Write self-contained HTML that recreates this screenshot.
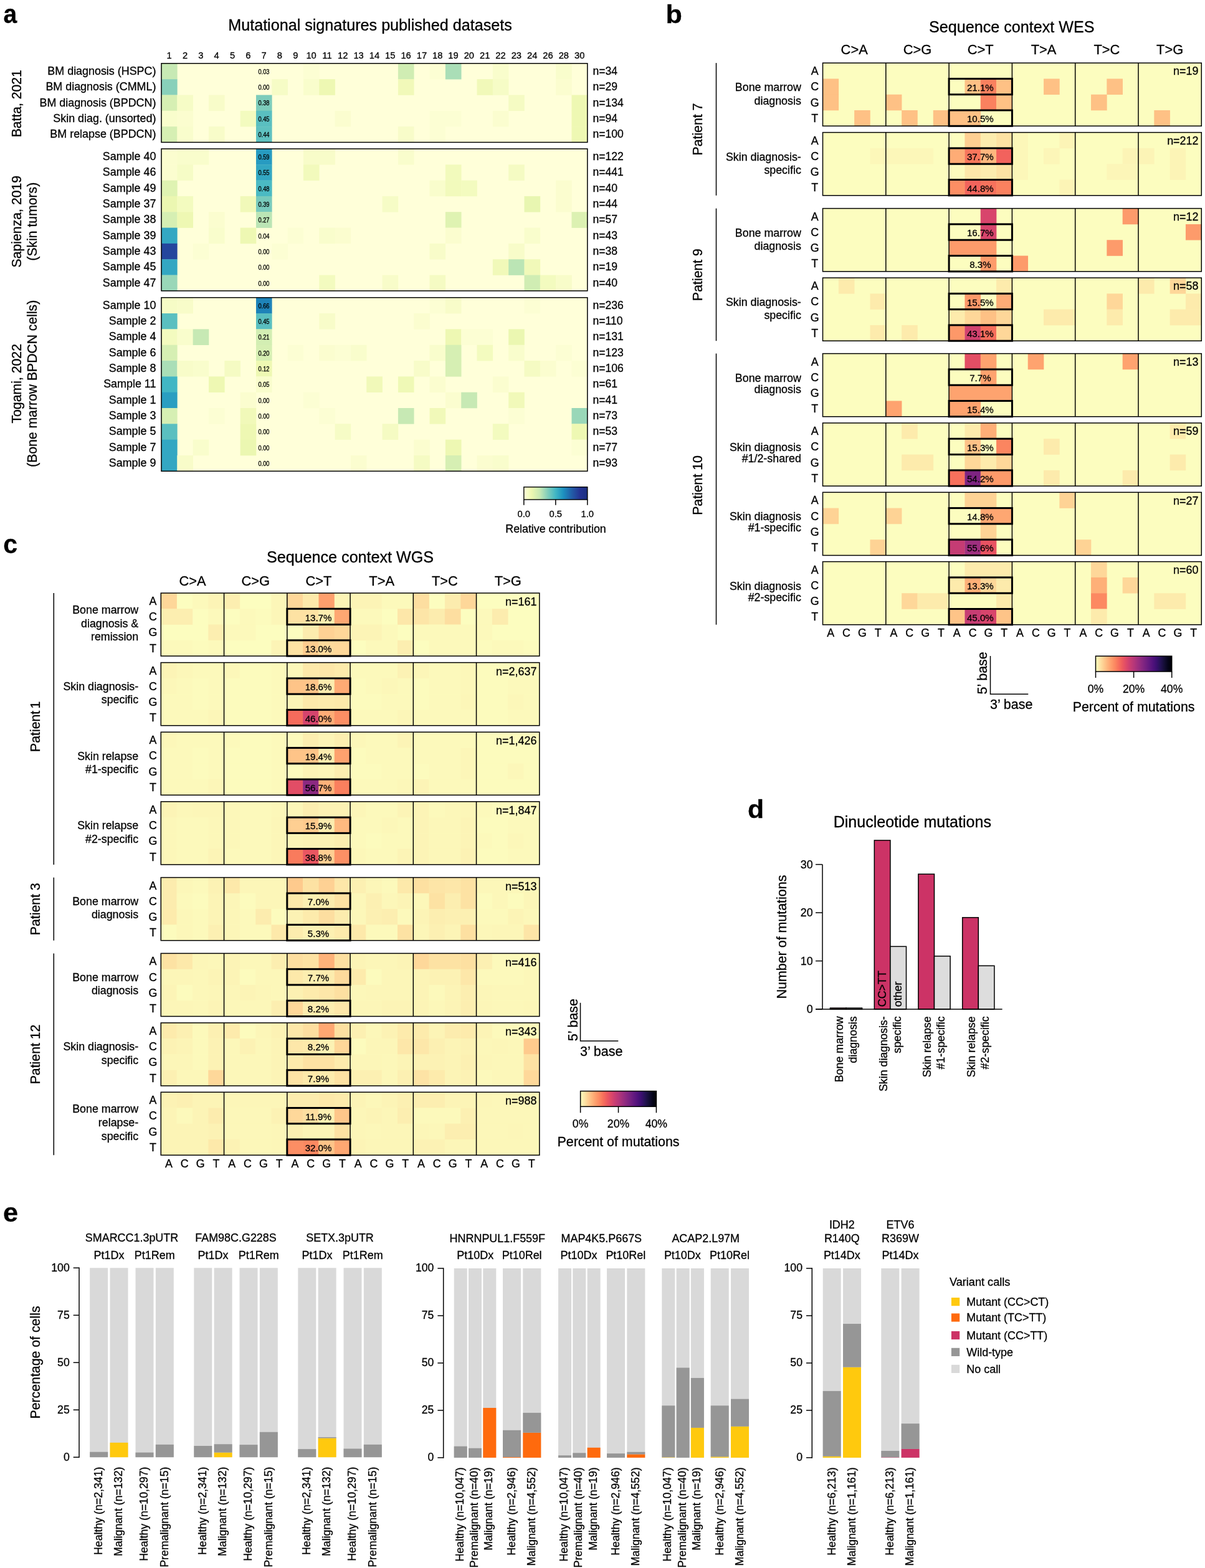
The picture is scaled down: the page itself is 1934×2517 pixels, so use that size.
<!DOCTYPE html>
<html lang="en"><head><meta charset="utf-8"><title>Mutational signatures figure</title>
<style>html,body{margin:0;padding:0;background:#fff}body{width:1934px;height:2517px;overflow:hidden}svg{display:block}text{font-family:"Liberation Sans",Arial,Helvetica,sans-serif;fill:#000;stroke:#000;stroke-width:0.3px;stroke-linejoin:round}</style>
</head><body>
<svg width="1934" height="2517" viewBox="0 0 1934 2517" role="img" aria-label="Mutational signatures figure, panels a to e">
<rect x="0" y="0" width="1934" height="2517" fill="#fff"/>
<g id="panel-a">
<text transform="translate(5.6 37.1) scale(0.93 1)" font-size="42" font-weight="bold">a</text>
<text transform="translate(594 48.6) scale(0.98 1)" font-size="25.66" text-anchor="middle">Mutational signatures published datasets</text>
<text transform="translate(271.66 94) scale(0.98 1)" font-size="15" text-anchor="middle">1</text>
<text transform="translate(296.99 94) scale(0.98 1)" font-size="15" text-anchor="middle">2</text>
<text transform="translate(322.31 94) scale(0.98 1)" font-size="15" text-anchor="middle">3</text>
<text transform="translate(347.64 94) scale(0.98 1)" font-size="15" text-anchor="middle">4</text>
<text transform="translate(372.97 94) scale(0.98 1)" font-size="15" text-anchor="middle">5</text>
<text transform="translate(398.29 94) scale(0.98 1)" font-size="15" text-anchor="middle">6</text>
<text transform="translate(423.62 94) scale(0.98 1)" font-size="15" text-anchor="middle">7</text>
<text transform="translate(448.94 94) scale(0.98 1)" font-size="15" text-anchor="middle">8</text>
<text transform="translate(474.27 94) scale(0.98 1)" font-size="15" text-anchor="middle">9</text>
<text transform="translate(499.6 94) scale(0.98 1)" font-size="15" text-anchor="middle">10</text>
<text transform="translate(524.92 94) scale(0.98 1)" font-size="15" text-anchor="middle">11</text>
<text transform="translate(550.25 94) scale(0.98 1)" font-size="15" text-anchor="middle">12</text>
<text transform="translate(575.57 94) scale(0.98 1)" font-size="15" text-anchor="middle">13</text>
<text transform="translate(600.9 94) scale(0.98 1)" font-size="15" text-anchor="middle">14</text>
<text transform="translate(626.23 94) scale(0.98 1)" font-size="15" text-anchor="middle">15</text>
<text transform="translate(651.55 94) scale(0.98 1)" font-size="15" text-anchor="middle">16</text>
<text transform="translate(676.88 94) scale(0.98 1)" font-size="15" text-anchor="middle">17</text>
<text transform="translate(702.2 94) scale(0.98 1)" font-size="15" text-anchor="middle">18</text>
<text transform="translate(727.53 94) scale(0.98 1)" font-size="15" text-anchor="middle">19</text>
<text transform="translate(752.86 94) scale(0.98 1)" font-size="15" text-anchor="middle">20</text>
<text transform="translate(778.18 94) scale(0.98 1)" font-size="15" text-anchor="middle">21</text>
<text transform="translate(803.51 94) scale(0.98 1)" font-size="15" text-anchor="middle">22</text>
<text transform="translate(828.83 94) scale(0.98 1)" font-size="15" text-anchor="middle">23</text>
<text transform="translate(854.16 94) scale(0.98 1)" font-size="15" text-anchor="middle">24</text>
<text transform="translate(879.49 94) scale(0.98 1)" font-size="15" text-anchor="middle">26</text>
<text transform="translate(904.81 94) scale(0.98 1)" font-size="15" text-anchor="middle">28</text>
<text transform="translate(930.14 94) scale(0.98 1)" font-size="15" text-anchor="middle">30</text>
<rect x="259" y="101.8" width="683.8" height="126.65" fill="#ffffd9"/>
<rect x="259" y="101.8" width="25.63" height="25.63" fill="#c7e9b4"/>
<rect x="486.93" y="101.8" width="25.63" height="25.63" fill="#fcfed3"/>
<rect x="638.89" y="101.8" width="25.63" height="25.63" fill="#d0edb3"/>
<rect x="689.54" y="101.8" width="25.63" height="25.63" fill="#fcfed3"/>
<rect x="714.87" y="101.8" width="25.63" height="25.63" fill="#aadeb7"/>
<rect x="790.84" y="101.8" width="25.63" height="25.63" fill="#f9fdcc"/>
<rect x="892.15" y="101.8" width="25.63" height="25.63" fill="#f9fdcc"/>
<rect x="259" y="127.13" width="25.63" height="25.63" fill="#88d0ba"/>
<rect x="436.28" y="127.13" width="25.63" height="25.63" fill="#f6fcc6"/>
<rect x="486.93" y="127.13" width="25.63" height="25.63" fill="#f9fdcc"/>
<rect x="512.26" y="127.13" width="25.63" height="25.63" fill="#eef8b3"/>
<rect x="638.89" y="127.13" width="25.63" height="25.63" fill="#f1f9b9"/>
<rect x="765.52" y="127.13" width="25.63" height="25.63" fill="#f1f9b9"/>
<rect x="790.84" y="127.13" width="25.63" height="25.63" fill="#f6fcc6"/>
<rect x="892.15" y="127.13" width="25.63" height="25.63" fill="#fbfdcf"/>
<rect x="259" y="152.46" width="25.63" height="25.63" fill="#d6efb3"/>
<rect x="284.33" y="152.46" width="25.63" height="25.63" fill="#f6fcc6"/>
<rect x="334.98" y="152.46" width="25.63" height="25.63" fill="#f8fcc9"/>
<rect x="410.96" y="152.46" width="25.63" height="25.63" fill="#7dccbb"/>
<rect x="816.17" y="152.46" width="25.63" height="25.63" fill="#f5fbc3"/>
<rect x="917.47" y="152.46" width="25.63" height="25.63" fill="#eef8b3"/>
<rect x="259" y="177.79" width="25.63" height="25.63" fill="#f9fdcc"/>
<rect x="284.33" y="177.79" width="25.63" height="25.63" fill="#fbfdcf"/>
<rect x="385.63" y="177.79" width="25.63" height="25.63" fill="#f3fbbf"/>
<rect x="410.96" y="177.79" width="25.63" height="25.63" fill="#5abfc0"/>
<rect x="537.59" y="177.79" width="25.63" height="25.63" fill="#fbfdcf"/>
<rect x="689.54" y="177.79" width="50.95" height="25.63" fill="#fcfed3"/>
<rect x="790.84" y="177.79" width="25.63" height="25.63" fill="#fbfdcf"/>
<rect x="917.47" y="177.79" width="25.63" height="25.63" fill="#eef8b3"/>
<rect x="259" y="203.12" width="25.63" height="25.63" fill="#d6efb3"/>
<rect x="284.33" y="203.12" width="25.63" height="25.63" fill="#f9fdcc"/>
<rect x="334.98" y="203.12" width="25.63" height="25.63" fill="#f8fcc9"/>
<rect x="410.96" y="203.12" width="25.63" height="25.63" fill="#5fc1c0"/>
<rect x="638.89" y="203.12" width="25.63" height="25.63" fill="#f8fcc9"/>
<rect x="689.54" y="203.12" width="25.63" height="25.63" fill="#fcfed3"/>
<rect x="917.47" y="203.12" width="25.63" height="25.63" fill="#eef8b3"/>
<rect x="259" y="101.8" width="683.8" height="126.65" fill="none" stroke="#000" stroke-width="1.5"/>
<text transform="translate(250.4 119.87) scale(0.98 1)" font-size="18.27" text-anchor="end">BM diagnosis (HSPC)</text>
<text transform="translate(951.5 119.87) scale(0.98 1)" font-size="17.9">n=34</text>
<text transform="translate(423.42 118.77) scale(0.87 1)" font-size="10.6" text-anchor="middle" fill="#222" stroke="#222" stroke-width="0.1">0.03</text>
<text transform="translate(250.4 145.19) scale(0.98 1)" font-size="18.27" text-anchor="end">BM diagnosis (CMML)</text>
<text transform="translate(951.5 145.19) scale(0.98 1)" font-size="17.9">n=29</text>
<text transform="translate(423.42 144.09) scale(0.87 1)" font-size="10.6" text-anchor="middle" fill="#222" stroke="#222" stroke-width="0.1">0.00</text>
<text transform="translate(250.4 170.53) scale(0.98 1)" font-size="18.27" text-anchor="end">BM diagnosis (BPDCN)</text>
<text transform="translate(951.5 170.53) scale(0.98 1)" font-size="17.9">n=134</text>
<text transform="translate(423.42 169.43) scale(0.87 1)" font-size="10.6" text-anchor="middle" fill="#222" stroke="#222" stroke-width="0.1">0.38</text>
<text transform="translate(250.4 195.85) scale(0.98 1)" font-size="18.27" text-anchor="end">Skin diag. (unsorted)</text>
<text transform="translate(951.5 195.85) scale(0.98 1)" font-size="17.9">n=94</text>
<text transform="translate(423.42 194.75) scale(0.87 1)" font-size="10.6" text-anchor="middle" fill="#222" stroke="#222" stroke-width="0.1">0.45</text>
<text transform="translate(250.4 221.18) scale(0.98 1)" font-size="18.27" text-anchor="end">BM relapse (BPDCN)</text>
<text transform="translate(951.5 221.18) scale(0.98 1)" font-size="17.9">n=100</text>
<text transform="translate(423.42 220.08) scale(0.87 1)" font-size="10.6" text-anchor="middle" fill="#222" stroke="#222" stroke-width="0.1">0.44</text>
<text transform="translate(33.8 166.22) rotate(-90) scale(0.98 1)" font-size="21.6" text-anchor="middle">Batta, 2021</text>
<rect x="259" y="238.9" width="683.8" height="227.97" fill="#ffffd9"/>
<rect x="259" y="238.9" width="25.63" height="25.63" fill="#fbfdcf"/>
<rect x="284.33" y="238.9" width="50.95" height="25.63" fill="#f9fdcc"/>
<rect x="410.96" y="238.9" width="25.63" height="25.63" fill="#279bc1"/>
<rect x="486.93" y="238.9" width="50.95" height="25.63" fill="#f8fcc9"/>
<rect x="638.89" y="238.9" width="25.63" height="25.63" fill="#f9fdcc"/>
<rect x="259" y="264.23" width="25.63" height="25.63" fill="#fbfdcf"/>
<rect x="284.33" y="264.23" width="25.63" height="25.63" fill="#f6fcc6"/>
<rect x="410.96" y="264.23" width="25.63" height="25.63" fill="#33a7c2"/>
<rect x="486.93" y="264.23" width="25.63" height="25.63" fill="#f2fabc"/>
<rect x="714.87" y="264.23" width="25.63" height="25.63" fill="#f2fabc"/>
<rect x="816.17" y="264.23" width="25.63" height="25.63" fill="#f5fbc3"/>
<rect x="259" y="289.56" width="25.63" height="25.63" fill="#dff3b2"/>
<rect x="410.96" y="289.56" width="25.63" height="25.63" fill="#4bbac3"/>
<rect x="689.54" y="289.56" width="25.63" height="25.63" fill="#f9fdcc"/>
<rect x="714.87" y="289.56" width="25.63" height="25.63" fill="#f2fabc"/>
<rect x="740.19" y="289.56" width="25.63" height="25.63" fill="#f3fbbf"/>
<rect x="892.15" y="289.56" width="25.63" height="25.63" fill="#fbfdcf"/>
<rect x="259" y="314.89" width="25.63" height="25.63" fill="#ebf7b1"/>
<rect x="284.33" y="314.89" width="25.63" height="25.63" fill="#f3fbbf"/>
<rect x="385.63" y="314.89" width="25.63" height="25.63" fill="#f1f9b9"/>
<rect x="410.96" y="314.89" width="25.63" height="25.63" fill="#78cabc"/>
<rect x="613.56" y="314.89" width="25.63" height="25.63" fill="#f6fcc6"/>
<rect x="841.5" y="314.89" width="25.63" height="25.63" fill="#e8f6b1"/>
<rect x="892.15" y="314.89" width="25.63" height="25.63" fill="#fbfdcf"/>
<rect x="259" y="340.22" width="25.63" height="25.63" fill="#d6efb3"/>
<rect x="284.33" y="340.22" width="25.63" height="25.63" fill="#eef8b3"/>
<rect x="334.98" y="340.22" width="25.63" height="25.63" fill="#fbfdcf"/>
<rect x="410.96" y="340.22" width="25.63" height="25.63" fill="#bbe5b5"/>
<rect x="714.87" y="340.22" width="25.63" height="25.63" fill="#dff3b2"/>
<rect x="917.47" y="340.22" width="25.63" height="25.63" fill="#dcf1b2"/>
<rect x="259" y="365.55" width="25.63" height="25.63" fill="#33a7c2"/>
<rect x="334.98" y="365.55" width="25.63" height="25.63" fill="#f9fdcc"/>
<rect x="385.63" y="365.55" width="25.63" height="25.63" fill="#eef8b3"/>
<rect x="461.61" y="365.55" width="25.63" height="25.63" fill="#fcfed3"/>
<rect x="512.26" y="365.55" width="25.63" height="25.63" fill="#f9fdcc"/>
<rect x="537.59" y="365.55" width="25.63" height="25.63" fill="#fbfdcf"/>
<rect x="714.87" y="365.55" width="25.63" height="25.63" fill="#fbfdcf"/>
<rect x="841.5" y="365.55" width="25.63" height="25.63" fill="#f9fdcc"/>
<rect x="259" y="390.88" width="25.63" height="25.63" fill="#24469d"/>
<rect x="309.65" y="390.88" width="25.63" height="25.63" fill="#fcfed3"/>
<rect x="436.28" y="390.88" width="25.63" height="25.63" fill="#fcfed3"/>
<rect x="689.54" y="390.88" width="25.63" height="25.63" fill="#f8fcc9"/>
<rect x="816.17" y="390.88" width="25.63" height="25.63" fill="#f8fcc9"/>
<rect x="259" y="416.21" width="25.63" height="25.63" fill="#33a7c2"/>
<rect x="790.84" y="416.21" width="25.63" height="25.63" fill="#f1f9b9"/>
<rect x="816.17" y="416.21" width="25.63" height="25.63" fill="#bbe5b5"/>
<rect x="841.5" y="416.21" width="25.63" height="25.63" fill="#f1f9b9"/>
<rect x="259" y="441.54" width="25.63" height="25.63" fill="#99d7b8"/>
<rect x="512.26" y="441.54" width="25.63" height="25.63" fill="#f3fbbf"/>
<rect x="613.56" y="441.54" width="25.63" height="25.63" fill="#f8fcc9"/>
<rect x="689.54" y="441.54" width="25.63" height="25.63" fill="#f5fbc3"/>
<rect x="841.5" y="441.54" width="25.63" height="25.63" fill="#d0edb3"/>
<rect x="866.82" y="441.54" width="25.63" height="25.63" fill="#f3fbbf"/>
<rect x="892.15" y="441.54" width="25.63" height="25.63" fill="#f8fcc9"/>
<rect x="259" y="238.9" width="683.8" height="227.97" fill="none" stroke="#000" stroke-width="1.5"/>
<text transform="translate(250.4 256.96) scale(0.98 1)" font-size="18.27" text-anchor="end">Sample 40</text>
<text transform="translate(951.5 256.96) scale(0.98 1)" font-size="17.9">n=122</text>
<text transform="translate(423.42 255.87) scale(0.87 1)" font-size="10.6" text-anchor="middle" fill="#222" stroke="#222" stroke-width="0.1">0.59</text>
<text transform="translate(250.4 282.29) scale(0.98 1)" font-size="18.27" text-anchor="end">Sample 46</text>
<text transform="translate(951.5 282.29) scale(0.98 1)" font-size="17.9">n=441</text>
<text transform="translate(423.42 281.19) scale(0.87 1)" font-size="10.6" text-anchor="middle" fill="#222" stroke="#222" stroke-width="0.1">0.55</text>
<text transform="translate(250.4 307.62) scale(0.98 1)" font-size="18.27" text-anchor="end">Sample 49</text>
<text transform="translate(951.5 307.62) scale(0.98 1)" font-size="17.9">n=40</text>
<text transform="translate(423.42 306.53) scale(0.87 1)" font-size="10.6" text-anchor="middle" fill="#222" stroke="#222" stroke-width="0.1">0.48</text>
<text transform="translate(250.4 332.95) scale(0.98 1)" font-size="18.27" text-anchor="end">Sample 37</text>
<text transform="translate(951.5 332.95) scale(0.98 1)" font-size="17.9">n=44</text>
<text transform="translate(423.42 331.86) scale(0.87 1)" font-size="10.6" text-anchor="middle" fill="#222" stroke="#222" stroke-width="0.1">0.39</text>
<text transform="translate(250.4 358.28) scale(0.98 1)" font-size="18.27" text-anchor="end">Sample 38</text>
<text transform="translate(951.5 358.28) scale(0.98 1)" font-size="17.9">n=57</text>
<text transform="translate(423.42 357.19) scale(0.87 1)" font-size="10.6" text-anchor="middle" fill="#222" stroke="#222" stroke-width="0.1">0.27</text>
<text transform="translate(250.4 383.62) scale(0.98 1)" font-size="18.27" text-anchor="end">Sample 39</text>
<text transform="translate(951.5 383.62) scale(0.98 1)" font-size="17.9">n=43</text>
<text transform="translate(423.42 382.52) scale(0.87 1)" font-size="10.6" text-anchor="middle" fill="#222" stroke="#222" stroke-width="0.1">0.04</text>
<text transform="translate(250.4 408.94) scale(0.98 1)" font-size="18.27" text-anchor="end">Sample 43</text>
<text transform="translate(951.5 408.94) scale(0.98 1)" font-size="17.9">n=38</text>
<text transform="translate(423.42 407.84) scale(0.87 1)" font-size="10.6" text-anchor="middle" fill="#222" stroke="#222" stroke-width="0.1">0.00</text>
<text transform="translate(250.4 434.27) scale(0.98 1)" font-size="18.27" text-anchor="end">Sample 45</text>
<text transform="translate(951.5 434.27) scale(0.98 1)" font-size="17.9">n=19</text>
<text transform="translate(423.42 433.18) scale(0.87 1)" font-size="10.6" text-anchor="middle" fill="#222" stroke="#222" stroke-width="0.1">0.00</text>
<text transform="translate(250.4 459.6) scale(0.98 1)" font-size="18.27" text-anchor="end">Sample 47</text>
<text transform="translate(951.5 459.6) scale(0.98 1)" font-size="17.9">n=40</text>
<text transform="translate(423.42 458.5) scale(0.87 1)" font-size="10.6" text-anchor="middle" fill="#222" stroke="#222" stroke-width="0.1">0.00</text>
<text transform="translate(33.8 355.69) rotate(-90) scale(0.98 1)" font-size="21.7" text-anchor="middle">Sapienza, 2019</text>
<text transform="translate(59.2 355.69) rotate(-90) scale(0.98 1)" font-size="21.6" text-anchor="middle">(Skin tumors)</text>
<rect x="259" y="477.7" width="683.8" height="278.63" fill="#ffffd9"/>
<rect x="259" y="477.7" width="25.63" height="25.63" fill="#f6fcc6"/>
<rect x="284.33" y="477.7" width="25.63" height="25.63" fill="#f8fcc9"/>
<rect x="410.96" y="477.7" width="25.63" height="25.63" fill="#1e83b9"/>
<rect x="689.54" y="477.7" width="25.63" height="25.63" fill="#fcfed3"/>
<rect x="714.87" y="477.7" width="25.63" height="25.63" fill="#f8fcc9"/>
<rect x="841.5" y="477.7" width="25.63" height="25.63" fill="#fcfed3"/>
<rect x="259" y="503.03" width="25.63" height="25.63" fill="#5abfc0"/>
<rect x="410.96" y="503.03" width="25.63" height="25.63" fill="#5abfc0"/>
<rect x="512.26" y="503.03" width="25.63" height="25.63" fill="#f8fcc9"/>
<rect x="664.21" y="503.03" width="25.63" height="25.63" fill="#fbfdcf"/>
<rect x="259" y="528.36" width="25.63" height="25.63" fill="#f3fbbf"/>
<rect x="284.33" y="528.36" width="25.63" height="25.63" fill="#f9fdcc"/>
<rect x="309.65" y="528.36" width="25.63" height="25.63" fill="#c7e9b4"/>
<rect x="410.96" y="528.36" width="25.63" height="25.63" fill="#d3eeb3"/>
<rect x="714.87" y="528.36" width="25.63" height="25.63" fill="#eef8b3"/>
<rect x="740.19" y="528.36" width="50.95" height="25.63" fill="#fcfed3"/>
<rect x="816.17" y="528.36" width="25.63" height="25.63" fill="#ebf7b1"/>
<rect x="259" y="553.69" width="25.63" height="25.63" fill="#d6efb3"/>
<rect x="410.96" y="553.69" width="25.63" height="25.63" fill="#d6efb3"/>
<rect x="461.61" y="553.69" width="25.63" height="25.63" fill="#fcfed3"/>
<rect x="512.26" y="553.69" width="25.63" height="25.63" fill="#fbfdcf"/>
<rect x="537.59" y="553.69" width="25.63" height="25.63" fill="#fcfed3"/>
<rect x="562.91" y="553.69" width="25.63" height="25.63" fill="#f9fdcc"/>
<rect x="689.54" y="553.69" width="25.63" height="25.63" fill="#f9fdcc"/>
<rect x="714.87" y="553.69" width="25.63" height="25.63" fill="#d6efb3"/>
<rect x="765.52" y="553.69" width="25.63" height="25.63" fill="#f3fbbf"/>
<rect x="816.17" y="553.69" width="25.63" height="25.63" fill="#f9fdcc"/>
<rect x="892.15" y="553.69" width="25.63" height="25.63" fill="#fcfed3"/>
<rect x="259" y="579.02" width="25.63" height="25.63" fill="#aadeb7"/>
<rect x="284.33" y="579.02" width="25.63" height="25.63" fill="#f8fcc9"/>
<rect x="309.65" y="579.02" width="25.63" height="25.63" fill="#f9fdcc"/>
<rect x="360.3" y="579.02" width="25.63" height="25.63" fill="#f5fbc3"/>
<rect x="410.96" y="579.02" width="25.63" height="25.63" fill="#eef8b3"/>
<rect x="664.21" y="579.02" width="25.63" height="25.63" fill="#f8fcc9"/>
<rect x="714.87" y="579.02" width="25.63" height="25.63" fill="#d6efb3"/>
<rect x="841.5" y="579.02" width="25.63" height="25.63" fill="#f5fbc3"/>
<rect x="866.82" y="579.02" width="25.63" height="25.63" fill="#fbfdcf"/>
<rect x="917.47" y="579.02" width="25.63" height="25.63" fill="#fcfed3"/>
<rect x="259" y="604.35" width="25.63" height="25.63" fill="#41b6c4"/>
<rect x="334.98" y="604.35" width="25.63" height="25.63" fill="#eef8b3"/>
<rect x="410.96" y="604.35" width="25.63" height="25.63" fill="#f9fdcc"/>
<rect x="588.24" y="604.35" width="25.63" height="25.63" fill="#f1f9b9"/>
<rect x="638.89" y="604.35" width="25.63" height="25.63" fill="#eff9b6"/>
<rect x="689.54" y="604.35" width="25.63" height="25.63" fill="#fbfdcf"/>
<rect x="790.84" y="604.35" width="25.63" height="25.63" fill="#fbfdcf"/>
<rect x="259" y="629.68" width="25.63" height="25.63" fill="#2a9ec1"/>
<rect x="385.63" y="629.68" width="25.63" height="25.63" fill="#fbfdcf"/>
<rect x="486.93" y="629.68" width="25.63" height="25.63" fill="#fcfed3"/>
<rect x="714.87" y="629.68" width="25.63" height="25.63" fill="#fbfdcf"/>
<rect x="740.19" y="629.68" width="25.63" height="25.63" fill="#c7e9b4"/>
<rect x="816.17" y="629.68" width="25.63" height="25.63" fill="#f1f9b9"/>
<rect x="259" y="655.01" width="25.63" height="25.63" fill="#d6efb3"/>
<rect x="334.98" y="655.01" width="25.63" height="25.63" fill="#fcfed3"/>
<rect x="385.63" y="655.01" width="25.63" height="25.63" fill="#f1f9b9"/>
<rect x="512.26" y="655.01" width="25.63" height="25.63" fill="#fcfed3"/>
<rect x="638.89" y="655.01" width="25.63" height="25.63" fill="#c7e9b4"/>
<rect x="689.54" y="655.01" width="25.63" height="25.63" fill="#f1f9b9"/>
<rect x="816.17" y="655.01" width="25.63" height="25.63" fill="#fcfed3"/>
<rect x="917.47" y="655.01" width="25.63" height="25.63" fill="#99d7b8"/>
<rect x="259" y="680.34" width="25.63" height="25.63" fill="#5abfc0"/>
<rect x="385.63" y="680.34" width="25.63" height="25.63" fill="#eef8b3"/>
<rect x="537.59" y="680.34" width="25.63" height="25.63" fill="#f6fcc6"/>
<rect x="613.56" y="680.34" width="25.63" height="25.63" fill="#f5fbc3"/>
<rect x="790.84" y="680.34" width="25.63" height="25.63" fill="#f3fbbf"/>
<rect x="917.47" y="680.34" width="25.63" height="25.63" fill="#eef8b3"/>
<rect x="259" y="705.67" width="25.63" height="25.63" fill="#33a7c2"/>
<rect x="309.65" y="705.67" width="25.63" height="25.63" fill="#f9fdcc"/>
<rect x="385.63" y="705.67" width="25.63" height="25.63" fill="#ebf7b1"/>
<rect x="664.21" y="705.67" width="25.63" height="25.63" fill="#fbfdcf"/>
<rect x="714.87" y="705.67" width="25.63" height="25.63" fill="#eef8b3"/>
<rect x="917.47" y="705.67" width="25.63" height="25.63" fill="#fcfed3"/>
<rect x="259" y="731" width="25.63" height="25.63" fill="#33a7c2"/>
<rect x="284.33" y="731" width="25.63" height="25.63" fill="#f8fcc9"/>
<rect x="562.91" y="731" width="25.63" height="25.63" fill="#fbfdcf"/>
<rect x="664.21" y="731" width="25.63" height="25.63" fill="#f5fbc3"/>
<rect x="714.87" y="731" width="25.63" height="25.63" fill="#d6efb3"/>
<rect x="765.52" y="731" width="25.63" height="25.63" fill="#fbfdcf"/>
<rect x="790.84" y="731" width="25.63" height="25.63" fill="#f9fdcc"/>
<rect x="259" y="477.7" width="683.8" height="278.63" fill="none" stroke="#000" stroke-width="1.5"/>
<text transform="translate(250.4 495.76) scale(0.98 1)" font-size="18.27" text-anchor="end">Sample 10</text>
<text transform="translate(951.5 495.76) scale(0.98 1)" font-size="17.9">n=236</text>
<text transform="translate(423.42 494.67) scale(0.87 1)" font-size="10.6" text-anchor="middle" fill="#222" stroke="#222" stroke-width="0.1">0.66</text>
<text transform="translate(250.4 521.09) scale(0.98 1)" font-size="18.27" text-anchor="end">Sample 2</text>
<text transform="translate(951.5 521.09) scale(0.98 1)" font-size="17.9">n=110</text>
<text transform="translate(423.42 519.99) scale(0.87 1)" font-size="10.6" text-anchor="middle" fill="#222" stroke="#222" stroke-width="0.1">0.45</text>
<text transform="translate(250.4 546.42) scale(0.98 1)" font-size="18.27" text-anchor="end">Sample 4</text>
<text transform="translate(951.5 546.42) scale(0.98 1)" font-size="17.9">n=131</text>
<text transform="translate(423.42 545.32) scale(0.87 1)" font-size="10.6" text-anchor="middle" fill="#222" stroke="#222" stroke-width="0.1">0.21</text>
<text transform="translate(250.4 571.75) scale(0.98 1)" font-size="18.27" text-anchor="end">Sample 6</text>
<text transform="translate(951.5 571.75) scale(0.98 1)" font-size="17.9">n=123</text>
<text transform="translate(423.42 570.65) scale(0.87 1)" font-size="10.6" text-anchor="middle" fill="#222" stroke="#222" stroke-width="0.1">0.20</text>
<text transform="translate(250.4 597.08) scale(0.98 1)" font-size="18.27" text-anchor="end">Sample 8</text>
<text transform="translate(951.5 597.08) scale(0.98 1)" font-size="17.9">n=106</text>
<text transform="translate(423.42 595.98) scale(0.87 1)" font-size="10.6" text-anchor="middle" fill="#222" stroke="#222" stroke-width="0.1">0.12</text>
<text transform="translate(250.4 622.41) scale(0.98 1)" font-size="18.27" text-anchor="end">Sample 11</text>
<text transform="translate(951.5 622.41) scale(0.98 1)" font-size="17.9">n=61</text>
<text transform="translate(423.42 621.31) scale(0.87 1)" font-size="10.6" text-anchor="middle" fill="#222" stroke="#222" stroke-width="0.1">0.05</text>
<text transform="translate(250.4 647.75) scale(0.98 1)" font-size="18.27" text-anchor="end">Sample 1</text>
<text transform="translate(951.5 647.75) scale(0.98 1)" font-size="17.9">n=41</text>
<text transform="translate(423.42 646.64) scale(0.87 1)" font-size="10.6" text-anchor="middle" fill="#222" stroke="#222" stroke-width="0.1">0.00</text>
<text transform="translate(250.4 673.07) scale(0.98 1)" font-size="18.27" text-anchor="end">Sample 3</text>
<text transform="translate(951.5 673.07) scale(0.98 1)" font-size="17.9">n=73</text>
<text transform="translate(423.42 671.97) scale(0.87 1)" font-size="10.6" text-anchor="middle" fill="#222" stroke="#222" stroke-width="0.1">0.00</text>
<text transform="translate(250.4 698.4) scale(0.98 1)" font-size="18.27" text-anchor="end">Sample 5</text>
<text transform="translate(951.5 698.4) scale(0.98 1)" font-size="17.9">n=53</text>
<text transform="translate(423.42 697.3) scale(0.87 1)" font-size="10.6" text-anchor="middle" fill="#222" stroke="#222" stroke-width="0.1">0.00</text>
<text transform="translate(250.4 723.74) scale(0.98 1)" font-size="18.27" text-anchor="end">Sample 7</text>
<text transform="translate(951.5 723.74) scale(0.98 1)" font-size="17.9">n=77</text>
<text transform="translate(423.42 722.63) scale(0.87 1)" font-size="10.6" text-anchor="middle" fill="#222" stroke="#222" stroke-width="0.1">0.00</text>
<text transform="translate(250.4 749.06) scale(0.98 1)" font-size="18.27" text-anchor="end">Sample 9</text>
<text transform="translate(951.5 749.06) scale(0.98 1)" font-size="17.9">n=93</text>
<text transform="translate(423.42 747.96) scale(0.87 1)" font-size="10.6" text-anchor="middle" fill="#222" stroke="#222" stroke-width="0.1">0.00</text>
<text transform="translate(33.8 615.81) rotate(-90) scale(0.98 1)" font-size="21.7" text-anchor="middle">Togami, 2022</text>
<text transform="translate(59.2 615.81) rotate(-90) scale(0.98 1)" font-size="21.6" text-anchor="middle">(Bone marrow BPDCN cells)</text>
<defs><linearGradient id="gyl" x1="0" x2="1" y1="0" y2="0"><stop offset="0" stop-color="#FFFFD9"/><stop offset="0.12" stop-color="#EDF8B1"/><stop offset="0.25" stop-color="#C7E9B4"/><stop offset="0.38" stop-color="#7FCDBB"/><stop offset="0.5" stop-color="#41B6C4"/><stop offset="0.62" stop-color="#1D91C0"/><stop offset="0.75" stop-color="#225EA8"/><stop offset="0.88" stop-color="#253494"/><stop offset="1" stop-color="#1c2f80"/></linearGradient></defs>
<rect x="840.8" y="781.8" width="102" height="20.2" fill="url(#gyl)" stroke="#000" stroke-width="1.4"/>
<line x1="840.8" y1="802" x2="840.8" y2="810.8" stroke="#000" stroke-width="1.5"/>
<text transform="translate(840.8 830.2) scale(0.98 1)" font-size="15" text-anchor="middle">0.0</text>
<line x1="891.8" y1="802" x2="891.8" y2="810.8" stroke="#000" stroke-width="1.5"/>
<text transform="translate(891.8 830.2) scale(0.98 1)" font-size="15" text-anchor="middle">0.5</text>
<line x1="942.8" y1="802" x2="942.8" y2="810.8" stroke="#000" stroke-width="1.5"/>
<text transform="translate(942.8 830.2) scale(0.98 1)" font-size="15" text-anchor="middle">1.0</text>
<text transform="translate(892 855.2) scale(0.98 1)" font-size="18.2" text-anchor="middle">Relative contribution</text>
</g>
<text transform="translate(1068.4 36.7) scale(1.04 1)" font-size="41.5" font-weight="bold">b</text>
<g id="panel-b">
<text transform="translate(1623.8 52) scale(0.98 1)" font-size="25.66" text-anchor="middle">Sequence context WES</text>
<text transform="translate(1371.15 87.4) scale(0.98 1)" font-size="22.3" text-anchor="middle">C&gt;A</text>
<text transform="translate(1472.45 87.4) scale(0.98 1)" font-size="22.3" text-anchor="middle">C&gt;G</text>
<text transform="translate(1573.75 87.4) scale(0.98 1)" font-size="22.3" text-anchor="middle">C&gt;T</text>
<text transform="translate(1675.05 87.4) scale(0.98 1)" font-size="22.3" text-anchor="middle">T&gt;A</text>
<text transform="translate(1776.35 87.4) scale(0.98 1)" font-size="22.3" text-anchor="middle">T&gt;C</text>
<text transform="translate(1877.65 87.4) scale(0.98 1)" font-size="22.3" text-anchor="middle">T&gt;G</text>
<rect x="1320.5" y="101.1" width="607.8" height="101.2" fill="#fcfdbf"/>
<rect x="1320.5" y="126.4" width="25.62" height="25.6" fill="#fec185"/>
<rect x="1548.42" y="126.4" width="25.62" height="25.6" fill="#fec185"/>
<rect x="1573.75" y="126.4" width="25.62" height="25.6" fill="#fa815f"/>
<rect x="1599.08" y="126.4" width="25.62" height="25.6" fill="#fec185"/>
<rect x="1675.05" y="126.4" width="25.62" height="25.6" fill="#fec185"/>
<rect x="1776.35" y="126.4" width="25.62" height="25.6" fill="#fec185"/>
<rect x="1320.5" y="151.7" width="25.62" height="25.6" fill="#fec185"/>
<rect x="1421.8" y="151.7" width="25.62" height="25.6" fill="#fec185"/>
<rect x="1573.75" y="151.7" width="25.62" height="25.6" fill="#fa815f"/>
<rect x="1599.08" y="151.7" width="25.62" height="25.6" fill="#fec185"/>
<rect x="1751.03" y="151.7" width="25.62" height="25.6" fill="#fec185"/>
<rect x="1371.15" y="177" width="25.62" height="25.6" fill="#fec185"/>
<rect x="1447.12" y="177" width="25.62" height="25.6" fill="#fec185"/>
<rect x="1497.78" y="177" width="76.27" height="25.6" fill="#fec185"/>
<rect x="1852.32" y="177" width="25.62" height="25.6" fill="#fec185"/>
<line x1="1421.8" y1="101.1" x2="1421.8" y2="202.3" stroke="#000" stroke-width="1.5"/>
<line x1="1523.1" y1="101.1" x2="1523.1" y2="202.3" stroke="#000" stroke-width="1.5"/>
<line x1="1624.4" y1="101.1" x2="1624.4" y2="202.3" stroke="#000" stroke-width="1.5"/>
<line x1="1725.7" y1="101.1" x2="1725.7" y2="202.3" stroke="#000" stroke-width="1.5"/>
<line x1="1827" y1="101.1" x2="1827" y2="202.3" stroke="#000" stroke-width="1.5"/>
<rect x="1320.5" y="101.1" width="607.8" height="101.2" fill="none" stroke="#000" stroke-width="1.5"/>
<rect x="1523.1" y="126.4" width="101.3" height="25.3" fill="none" stroke="#000" stroke-width="3"/>
<text transform="translate(1573.35 145.65) scale(0.98 1)" font-size="15.4" text-anchor="middle" fill="#111" stroke="#111">21.1%</text>
<rect x="1523.1" y="177" width="101.3" height="25.3" fill="none" stroke="#000" stroke-width="3"/>
<text transform="translate(1573.35 196.25) scale(0.98 1)" font-size="15.4" text-anchor="middle" fill="#111" stroke="#111">10.5%</text>
<text transform="translate(1307.8 120.05) scale(0.98 1)" font-size="18.2" text-anchor="middle">A</text>
<text transform="translate(1307.8 145.35) scale(0.98 1)" font-size="18.2" text-anchor="middle">C</text>
<text transform="translate(1307.8 170.65) scale(0.98 1)" font-size="18.2" text-anchor="middle">G</text>
<text transform="translate(1307.8 195.95) scale(0.98 1)" font-size="18.2" text-anchor="middle">T</text>
<text transform="translate(1923.5 120.4) scale(0.98 1)" font-size="18.3" text-anchor="end">n=19</text>
<text transform="translate(1285.8 146.1) scale(0.98 1)" font-size="18.2" text-anchor="end">Bone marrow</text>
<text transform="translate(1285.8 167.5) scale(0.98 1)" font-size="18.2" text-anchor="end">diagnosis</text>
<rect x="1320.5" y="212.6" width="607.8" height="101.2" fill="#fcfdbf"/>
<rect x="1548.42" y="212.6" width="25.62" height="25.6" fill="#fecf92"/>
<rect x="1573.75" y="212.6" width="25.62" height="25.6" fill="#fcecae"/>
<rect x="1599.08" y="212.6" width="25.62" height="25.6" fill="#fde2a3"/>
<rect x="1624.4" y="212.6" width="25.62" height="25.6" fill="#fcf7b9"/>
<rect x="1700.38" y="212.6" width="25.62" height="25.6" fill="#fcf4b6"/>
<rect x="1396.47" y="237.9" width="101.6" height="25.6" fill="#fcf7b9"/>
<rect x="1523.1" y="237.9" width="25.62" height="25.6" fill="#feac76"/>
<rect x="1548.42" y="237.9" width="25.62" height="25.6" fill="#f8765c"/>
<rect x="1573.75" y="237.9" width="25.62" height="25.6" fill="#feb77e"/>
<rect x="1599.08" y="237.9" width="25.62" height="25.6" fill="#f2625d"/>
<rect x="1624.4" y="237.9" width="25.62" height="25.6" fill="#fcf7b9"/>
<rect x="1675.05" y="237.9" width="25.62" height="25.6" fill="#fcf6b8"/>
<rect x="1801.67" y="237.9" width="50.95" height="25.6" fill="#fcf4b6"/>
<rect x="1877.65" y="237.9" width="25.62" height="25.6" fill="#fcf4b6"/>
<rect x="1523.1" y="263.2" width="25.62" height="25.6" fill="#fcfbbd"/>
<rect x="1548.42" y="263.2" width="25.62" height="25.6" fill="#fde7a9"/>
<rect x="1573.75" y="263.2" width="25.62" height="25.6" fill="#fcecae"/>
<rect x="1599.08" y="263.2" width="25.62" height="25.6" fill="#fde2a3"/>
<rect x="1624.4" y="263.2" width="25.62" height="25.6" fill="#fcf7b9"/>
<rect x="1776.35" y="263.2" width="50.95" height="25.6" fill="#fcf6b8"/>
<rect x="1877.65" y="263.2" width="25.62" height="25.6" fill="#fcf4b6"/>
<rect x="1523.1" y="288.5" width="25.62" height="25.6" fill="#fc8e64"/>
<rect x="1548.42" y="288.5" width="25.62" height="25.6" fill="#f2645c"/>
<rect x="1573.75" y="288.5" width="25.62" height="25.6" fill="#f7725c"/>
<rect x="1599.08" y="288.5" width="25.62" height="25.6" fill="#fa815f"/>
<rect x="1700.38" y="288.5" width="25.62" height="25.6" fill="#fcf4b6"/>
<line x1="1421.8" y1="212.6" x2="1421.8" y2="313.8" stroke="#000" stroke-width="1.5"/>
<line x1="1523.1" y1="212.6" x2="1523.1" y2="313.8" stroke="#000" stroke-width="1.5"/>
<line x1="1624.4" y1="212.6" x2="1624.4" y2="313.8" stroke="#000" stroke-width="1.5"/>
<line x1="1725.7" y1="212.6" x2="1725.7" y2="313.8" stroke="#000" stroke-width="1.5"/>
<line x1="1827" y1="212.6" x2="1827" y2="313.8" stroke="#000" stroke-width="1.5"/>
<rect x="1320.5" y="212.6" width="607.8" height="101.2" fill="none" stroke="#000" stroke-width="1.5"/>
<rect x="1523.1" y="237.9" width="101.3" height="25.3" fill="none" stroke="#000" stroke-width="3"/>
<text transform="translate(1573.35 257.15) scale(0.98 1)" font-size="15.4" text-anchor="middle" fill="#111" stroke="#111">37.7%</text>
<rect x="1523.1" y="288.5" width="101.3" height="25.3" fill="none" stroke="#000" stroke-width="3"/>
<text transform="translate(1573.35 307.75) scale(0.98 1)" font-size="15.4" text-anchor="middle" fill="#111" stroke="#111">44.8%</text>
<text transform="translate(1307.8 231.55) scale(0.98 1)" font-size="18.2" text-anchor="middle">A</text>
<text transform="translate(1307.8 256.85) scale(0.98 1)" font-size="18.2" text-anchor="middle">C</text>
<text transform="translate(1307.8 282.15) scale(0.98 1)" font-size="18.2" text-anchor="middle">G</text>
<text transform="translate(1307.8 307.45) scale(0.98 1)" font-size="18.2" text-anchor="middle">T</text>
<text transform="translate(1923.5 231.9) scale(0.98 1)" font-size="18.3" text-anchor="end">n=212</text>
<text transform="translate(1285.8 257.6) scale(0.98 1)" font-size="18.2" text-anchor="end">Skin diagnosis-</text>
<text transform="translate(1285.8 279) scale(0.98 1)" font-size="18.2" text-anchor="end">specific</text>
<rect x="1320.5" y="334.6" width="607.8" height="101.2" fill="#fcfdbf"/>
<rect x="1573.75" y="334.6" width="25.62" height="25.6" fill="#d8456c"/>
<rect x="1801.67" y="334.6" width="25.62" height="25.6" fill="#fd9b6b"/>
<rect x="1573.75" y="359.9" width="25.62" height="25.6" fill="#d8456c"/>
<rect x="1902.97" y="359.9" width="25.62" height="25.6" fill="#fd9b6b"/>
<rect x="1523.1" y="385.2" width="76.27" height="25.6" fill="#fd9b6b"/>
<rect x="1776.35" y="385.2" width="25.62" height="25.6" fill="#fd9b6b"/>
<rect x="1573.75" y="410.5" width="25.62" height="25.6" fill="#fd9b6b"/>
<rect x="1624.4" y="410.5" width="25.62" height="25.6" fill="#fd9b6b"/>
<line x1="1421.8" y1="334.6" x2="1421.8" y2="435.8" stroke="#000" stroke-width="1.5"/>
<line x1="1523.1" y1="334.6" x2="1523.1" y2="435.8" stroke="#000" stroke-width="1.5"/>
<line x1="1624.4" y1="334.6" x2="1624.4" y2="435.8" stroke="#000" stroke-width="1.5"/>
<line x1="1725.7" y1="334.6" x2="1725.7" y2="435.8" stroke="#000" stroke-width="1.5"/>
<line x1="1827" y1="334.6" x2="1827" y2="435.8" stroke="#000" stroke-width="1.5"/>
<rect x="1320.5" y="334.6" width="607.8" height="101.2" fill="none" stroke="#000" stroke-width="1.5"/>
<rect x="1523.1" y="359.9" width="101.3" height="25.3" fill="none" stroke="#000" stroke-width="3"/>
<text transform="translate(1573.35 379.15) scale(0.98 1)" font-size="15.4" text-anchor="middle" fill="#111" stroke="#111">16.7%</text>
<rect x="1523.1" y="410.5" width="101.3" height="25.3" fill="none" stroke="#000" stroke-width="3"/>
<text transform="translate(1573.35 429.75) scale(0.98 1)" font-size="15.4" text-anchor="middle" fill="#111" stroke="#111">8.3%</text>
<text transform="translate(1307.8 353.55) scale(0.98 1)" font-size="18.2" text-anchor="middle">A</text>
<text transform="translate(1307.8 378.85) scale(0.98 1)" font-size="18.2" text-anchor="middle">C</text>
<text transform="translate(1307.8 404.15) scale(0.98 1)" font-size="18.2" text-anchor="middle">G</text>
<text transform="translate(1307.8 429.45) scale(0.98 1)" font-size="18.2" text-anchor="middle">T</text>
<text transform="translate(1923.5 353.9) scale(0.98 1)" font-size="18.3" text-anchor="end">n=12</text>
<text transform="translate(1285.8 379.6) scale(0.98 1)" font-size="18.2" text-anchor="end">Bone marrow</text>
<text transform="translate(1285.8 401) scale(0.98 1)" font-size="18.2" text-anchor="end">diagnosis</text>
<rect x="1320.5" y="446" width="607.8" height="101.2" fill="#fcfdbf"/>
<rect x="1345.83" y="446" width="25.62" height="25.6" fill="#fdebac"/>
<rect x="1599.08" y="446" width="25.62" height="25.6" fill="#fdebac"/>
<rect x="1827" y="446" width="25.62" height="25.6" fill="#fdebac"/>
<rect x="1877.65" y="446" width="25.62" height="25.6" fill="#fed799"/>
<rect x="1396.47" y="471.3" width="25.62" height="25.6" fill="#fdebac"/>
<rect x="1548.42" y="471.3" width="25.62" height="25.6" fill="#fd9869"/>
<rect x="1599.08" y="471.3" width="25.62" height="25.6" fill="#feac76"/>
<rect x="1776.35" y="471.3" width="25.62" height="25.6" fill="#fed799"/>
<rect x="1902.97" y="471.3" width="25.62" height="25.6" fill="#fdebac"/>
<rect x="1523.1" y="496.6" width="25.62" height="25.6" fill="#fdebac"/>
<rect x="1548.42" y="496.6" width="25.62" height="25.6" fill="#fed799"/>
<rect x="1573.75" y="496.6" width="25.62" height="25.6" fill="#fec185"/>
<rect x="1599.08" y="496.6" width="25.62" height="25.6" fill="#fed799"/>
<rect x="1675.05" y="496.6" width="50.95" height="25.6" fill="#fdebac"/>
<rect x="1776.35" y="496.6" width="25.62" height="25.6" fill="#fdebac"/>
<rect x="1877.65" y="496.6" width="50.95" height="25.6" fill="#fdebac"/>
<rect x="1396.47" y="521.9" width="25.62" height="25.6" fill="#fdebac"/>
<rect x="1447.12" y="521.9" width="25.62" height="25.6" fill="#fdebac"/>
<rect x="1523.1" y="521.9" width="25.62" height="25.6" fill="#fd9869"/>
<rect x="1548.42" y="521.9" width="25.62" height="25.6" fill="#d2426f"/>
<rect x="1573.75" y="521.9" width="25.62" height="25.6" fill="#f66e5c"/>
<rect x="1599.08" y="521.9" width="25.62" height="25.6" fill="#fed799"/>
<line x1="1421.8" y1="446" x2="1421.8" y2="547.2" stroke="#000" stroke-width="1.5"/>
<line x1="1523.1" y1="446" x2="1523.1" y2="547.2" stroke="#000" stroke-width="1.5"/>
<line x1="1624.4" y1="446" x2="1624.4" y2="547.2" stroke="#000" stroke-width="1.5"/>
<line x1="1725.7" y1="446" x2="1725.7" y2="547.2" stroke="#000" stroke-width="1.5"/>
<line x1="1827" y1="446" x2="1827" y2="547.2" stroke="#000" stroke-width="1.5"/>
<rect x="1320.5" y="446" width="607.8" height="101.2" fill="none" stroke="#000" stroke-width="1.5"/>
<rect x="1523.1" y="471.3" width="101.3" height="25.3" fill="none" stroke="#000" stroke-width="3"/>
<text transform="translate(1573.35 490.55) scale(0.98 1)" font-size="15.4" text-anchor="middle" fill="#111" stroke="#111">15.5%</text>
<rect x="1523.1" y="521.9" width="101.3" height="25.3" fill="none" stroke="#000" stroke-width="3"/>
<text transform="translate(1573.35 541.15) scale(0.98 1)" font-size="15.4" text-anchor="middle" fill="#111" stroke="#111">43.1%</text>
<text transform="translate(1307.8 464.95) scale(0.98 1)" font-size="18.2" text-anchor="middle">A</text>
<text transform="translate(1307.8 490.25) scale(0.98 1)" font-size="18.2" text-anchor="middle">C</text>
<text transform="translate(1307.8 515.55) scale(0.98 1)" font-size="18.2" text-anchor="middle">G</text>
<text transform="translate(1307.8 540.85) scale(0.98 1)" font-size="18.2" text-anchor="middle">T</text>
<text transform="translate(1923.5 465.3) scale(0.98 1)" font-size="18.3" text-anchor="end">n=58</text>
<text transform="translate(1285.8 491) scale(0.98 1)" font-size="18.2" text-anchor="end">Skin diagnosis-</text>
<text transform="translate(1285.8 512.4) scale(0.98 1)" font-size="18.2" text-anchor="end">specific</text>
<rect x="1320.5" y="567.6" width="607.8" height="101.2" fill="#fcfdbf"/>
<rect x="1548.42" y="567.6" width="25.62" height="25.6" fill="#e34e65"/>
<rect x="1573.75" y="567.6" width="25.62" height="25.6" fill="#fea36f"/>
<rect x="1649.72" y="567.6" width="25.62" height="25.6" fill="#fea36f"/>
<rect x="1801.67" y="567.6" width="25.62" height="25.6" fill="#fea36f"/>
<rect x="1573.75" y="592.9" width="25.62" height="25.6" fill="#fea36f"/>
<rect x="1523.1" y="618.2" width="101.6" height="25.6" fill="#fea36f"/>
<rect x="1421.8" y="643.5" width="25.62" height="25.6" fill="#fea36f"/>
<rect x="1523.1" y="643.5" width="50.95" height="25.6" fill="#fea36f"/>
<line x1="1421.8" y1="567.6" x2="1421.8" y2="668.8" stroke="#000" stroke-width="1.5"/>
<line x1="1523.1" y1="567.6" x2="1523.1" y2="668.8" stroke="#000" stroke-width="1.5"/>
<line x1="1624.4" y1="567.6" x2="1624.4" y2="668.8" stroke="#000" stroke-width="1.5"/>
<line x1="1725.7" y1="567.6" x2="1725.7" y2="668.8" stroke="#000" stroke-width="1.5"/>
<line x1="1827" y1="567.6" x2="1827" y2="668.8" stroke="#000" stroke-width="1.5"/>
<rect x="1320.5" y="567.6" width="607.8" height="101.2" fill="none" stroke="#000" stroke-width="1.5"/>
<rect x="1523.1" y="592.9" width="101.3" height="25.3" fill="none" stroke="#000" stroke-width="3"/>
<text transform="translate(1573.35 612.15) scale(0.98 1)" font-size="15.4" text-anchor="middle" fill="#111" stroke="#111">7.7%</text>
<rect x="1523.1" y="643.5" width="101.3" height="25.3" fill="none" stroke="#000" stroke-width="3"/>
<text transform="translate(1573.35 662.75) scale(0.98 1)" font-size="15.4" text-anchor="middle" fill="#111" stroke="#111">15.4%</text>
<text transform="translate(1307.8 586.55) scale(0.98 1)" font-size="18.2" text-anchor="middle">A</text>
<text transform="translate(1307.8 611.85) scale(0.98 1)" font-size="18.2" text-anchor="middle">C</text>
<text transform="translate(1307.8 637.15) scale(0.98 1)" font-size="18.2" text-anchor="middle">G</text>
<text transform="translate(1307.8 662.45) scale(0.98 1)" font-size="18.2" text-anchor="middle">T</text>
<text transform="translate(1923.5 586.9) scale(0.98 1)" font-size="18.3" text-anchor="end">n=13</text>
<text transform="translate(1285.8 612.6) scale(0.98 1)" font-size="18.2" text-anchor="end">Bone marrow</text>
<text transform="translate(1285.8 630.6) scale(0.98 1)" font-size="18.2" text-anchor="end">diagnosis</text>
<rect x="1320.5" y="679" width="607.8" height="101.2" fill="#fcfdbf"/>
<rect x="1447.12" y="679" width="25.62" height="25.6" fill="#fdebac"/>
<rect x="1548.42" y="679" width="25.62" height="25.6" fill="#fdebac"/>
<rect x="1573.75" y="679" width="25.62" height="25.6" fill="#feae77"/>
<rect x="1877.65" y="679" width="25.62" height="25.6" fill="#fdebac"/>
<rect x="1548.42" y="704.3" width="25.62" height="25.6" fill="#fec287"/>
<rect x="1599.08" y="704.3" width="25.62" height="25.6" fill="#fb8560"/>
<rect x="1675.05" y="704.3" width="25.62" height="25.6" fill="#fdebac"/>
<rect x="1447.12" y="729.6" width="50.95" height="25.6" fill="#fdebac"/>
<rect x="1548.42" y="729.6" width="25.62" height="25.6" fill="#fed799"/>
<rect x="1573.75" y="729.6" width="25.62" height="25.6" fill="#fdebac"/>
<rect x="1599.08" y="729.6" width="25.62" height="25.6" fill="#fed799"/>
<rect x="1877.65" y="729.6" width="25.62" height="25.6" fill="#fdebac"/>
<rect x="1523.1" y="754.9" width="25.62" height="25.6" fill="#f7705c"/>
<rect x="1548.42" y="754.9" width="25.62" height="25.6" fill="#7e2482"/>
<rect x="1573.75" y="754.9" width="50.95" height="25.6" fill="#fd9a6a"/>
<rect x="1675.05" y="754.9" width="25.62" height="25.6" fill="#fdebac"/>
<rect x="1801.67" y="754.9" width="25.62" height="25.6" fill="#fdebac"/>
<line x1="1421.8" y1="679" x2="1421.8" y2="780.2" stroke="#000" stroke-width="1.5"/>
<line x1="1523.1" y1="679" x2="1523.1" y2="780.2" stroke="#000" stroke-width="1.5"/>
<line x1="1624.4" y1="679" x2="1624.4" y2="780.2" stroke="#000" stroke-width="1.5"/>
<line x1="1725.7" y1="679" x2="1725.7" y2="780.2" stroke="#000" stroke-width="1.5"/>
<line x1="1827" y1="679" x2="1827" y2="780.2" stroke="#000" stroke-width="1.5"/>
<rect x="1320.5" y="679" width="607.8" height="101.2" fill="none" stroke="#000" stroke-width="1.5"/>
<rect x="1523.1" y="704.3" width="101.3" height="25.3" fill="none" stroke="#000" stroke-width="3"/>
<text transform="translate(1573.35 723.55) scale(0.98 1)" font-size="15.4" text-anchor="middle" fill="#111" stroke="#111">15.3%</text>
<rect x="1523.1" y="754.9" width="101.3" height="25.3" fill="none" stroke="#000" stroke-width="3"/>
<text transform="translate(1573.35 774.15) scale(0.98 1)" font-size="15.4" text-anchor="middle" fill="#111" stroke="#111">54.2%</text>
<text transform="translate(1307.8 697.95) scale(0.98 1)" font-size="18.2" text-anchor="middle">A</text>
<text transform="translate(1307.8 723.25) scale(0.98 1)" font-size="18.2" text-anchor="middle">C</text>
<text transform="translate(1307.8 748.55) scale(0.98 1)" font-size="18.2" text-anchor="middle">G</text>
<text transform="translate(1307.8 773.85) scale(0.98 1)" font-size="18.2" text-anchor="middle">T</text>
<text transform="translate(1923.5 698.3) scale(0.98 1)" font-size="18.3" text-anchor="end">n=59</text>
<text transform="translate(1285.8 724) scale(0.98 1)" font-size="18.2" text-anchor="end">Skin diagnosis</text>
<text transform="translate(1285.8 742) scale(0.98 1)" font-size="18.2" text-anchor="end">#1/2-shared</text>
<rect x="1320.5" y="790.3" width="607.8" height="101.2" fill="#fcfdbf"/>
<rect x="1548.42" y="790.3" width="50.95" height="25.6" fill="#fed395"/>
<rect x="1700.38" y="790.3" width="25.62" height="25.6" fill="#fed395"/>
<rect x="1320.5" y="815.6" width="25.62" height="25.6" fill="#fed395"/>
<rect x="1421.8" y="815.6" width="25.62" height="25.6" fill="#fed395"/>
<rect x="1573.75" y="815.6" width="50.95" height="25.6" fill="#fea772"/>
<rect x="1573.75" y="840.9" width="25.62" height="25.6" fill="#fed395"/>
<rect x="1396.47" y="866.2" width="25.62" height="25.6" fill="#fed395"/>
<rect x="1523.1" y="866.2" width="25.62" height="25.6" fill="#c53c74"/>
<rect x="1548.42" y="866.2" width="25.62" height="25.6" fill="#9e2f7f"/>
<rect x="1573.75" y="866.2" width="25.62" height="25.6" fill="#e85362"/>
<rect x="1725.7" y="866.2" width="25.62" height="25.6" fill="#fed395"/>
<line x1="1421.8" y1="790.3" x2="1421.8" y2="891.5" stroke="#000" stroke-width="1.5"/>
<line x1="1523.1" y1="790.3" x2="1523.1" y2="891.5" stroke="#000" stroke-width="1.5"/>
<line x1="1624.4" y1="790.3" x2="1624.4" y2="891.5" stroke="#000" stroke-width="1.5"/>
<line x1="1725.7" y1="790.3" x2="1725.7" y2="891.5" stroke="#000" stroke-width="1.5"/>
<line x1="1827" y1="790.3" x2="1827" y2="891.5" stroke="#000" stroke-width="1.5"/>
<rect x="1320.5" y="790.3" width="607.8" height="101.2" fill="none" stroke="#000" stroke-width="1.5"/>
<rect x="1523.1" y="815.6" width="101.3" height="25.3" fill="none" stroke="#000" stroke-width="3"/>
<text transform="translate(1573.35 834.85) scale(0.98 1)" font-size="15.4" text-anchor="middle" fill="#111" stroke="#111">14.8%</text>
<rect x="1523.1" y="866.2" width="101.3" height="25.3" fill="none" stroke="#000" stroke-width="3"/>
<text transform="translate(1573.35 885.45) scale(0.98 1)" font-size="15.4" text-anchor="middle" fill="#111" stroke="#111">55.6%</text>
<text transform="translate(1307.8 809.25) scale(0.98 1)" font-size="18.2" text-anchor="middle">A</text>
<text transform="translate(1307.8 834.55) scale(0.98 1)" font-size="18.2" text-anchor="middle">C</text>
<text transform="translate(1307.8 859.85) scale(0.98 1)" font-size="18.2" text-anchor="middle">G</text>
<text transform="translate(1307.8 885.15) scale(0.98 1)" font-size="18.2" text-anchor="middle">T</text>
<text transform="translate(1923.5 809.6) scale(0.98 1)" font-size="18.3" text-anchor="end">n=27</text>
<text transform="translate(1285.8 835.3) scale(0.98 1)" font-size="18.2" text-anchor="end">Skin diagnosis</text>
<text transform="translate(1285.8 853.3) scale(0.98 1)" font-size="18.2" text-anchor="end">#1-specific</text>
<rect x="1320.5" y="901.6" width="607.8" height="101.2" fill="#fcfdbf"/>
<rect x="1548.42" y="901.6" width="76.27" height="25.6" fill="#fdebac"/>
<rect x="1751.03" y="901.6" width="25.62" height="25.6" fill="#fed799"/>
<rect x="1523.1" y="926.9" width="25.62" height="25.6" fill="#fdebac"/>
<rect x="1548.42" y="926.9" width="25.62" height="25.6" fill="#feb078"/>
<rect x="1573.75" y="926.9" width="25.62" height="25.6" fill="#fed799"/>
<rect x="1599.08" y="926.9" width="25.62" height="25.6" fill="#fdebac"/>
<rect x="1751.03" y="926.9" width="25.62" height="25.6" fill="#feb078"/>
<rect x="1801.67" y="926.9" width="25.62" height="25.6" fill="#fed799"/>
<rect x="1447.12" y="952.2" width="25.62" height="25.6" fill="#fed799"/>
<rect x="1472.45" y="952.2" width="50.95" height="25.6" fill="#fdebac"/>
<rect x="1599.08" y="952.2" width="25.62" height="25.6" fill="#fdebac"/>
<rect x="1751.03" y="952.2" width="25.62" height="25.6" fill="#fc8961"/>
<rect x="1852.32" y="952.2" width="50.95" height="25.6" fill="#fdebac"/>
<rect x="1523.1" y="977.5" width="25.62" height="25.6" fill="#fec488"/>
<rect x="1548.42" y="977.5" width="25.62" height="25.6" fill="#c73d73"/>
<rect x="1573.75" y="977.5" width="25.62" height="25.6" fill="#d8456c"/>
<rect x="1599.08" y="977.5" width="25.62" height="25.6" fill="#fec488"/>
<rect x="1751.03" y="977.5" width="25.62" height="25.6" fill="#fdebac"/>
<line x1="1421.8" y1="901.6" x2="1421.8" y2="1002.8" stroke="#000" stroke-width="1.5"/>
<line x1="1523.1" y1="901.6" x2="1523.1" y2="1002.8" stroke="#000" stroke-width="1.5"/>
<line x1="1624.4" y1="901.6" x2="1624.4" y2="1002.8" stroke="#000" stroke-width="1.5"/>
<line x1="1725.7" y1="901.6" x2="1725.7" y2="1002.8" stroke="#000" stroke-width="1.5"/>
<line x1="1827" y1="901.6" x2="1827" y2="1002.8" stroke="#000" stroke-width="1.5"/>
<rect x="1320.5" y="901.6" width="607.8" height="101.2" fill="none" stroke="#000" stroke-width="1.5"/>
<rect x="1523.1" y="926.9" width="101.3" height="25.3" fill="none" stroke="#000" stroke-width="3"/>
<text transform="translate(1573.35 946.15) scale(0.98 1)" font-size="15.4" text-anchor="middle" fill="#111" stroke="#111">13.3%</text>
<rect x="1523.1" y="977.5" width="101.3" height="25.3" fill="none" stroke="#000" stroke-width="3"/>
<text transform="translate(1573.35 996.75) scale(0.98 1)" font-size="15.4" text-anchor="middle" fill="#111" stroke="#111">45.0%</text>
<text transform="translate(1307.8 920.55) scale(0.98 1)" font-size="18.2" text-anchor="middle">A</text>
<text transform="translate(1307.8 945.85) scale(0.98 1)" font-size="18.2" text-anchor="middle">C</text>
<text transform="translate(1307.8 971.15) scale(0.98 1)" font-size="18.2" text-anchor="middle">G</text>
<text transform="translate(1307.8 996.45) scale(0.98 1)" font-size="18.2" text-anchor="middle">T</text>
<text transform="translate(1923.5 920.9) scale(0.98 1)" font-size="18.3" text-anchor="end">n=60</text>
<text transform="translate(1285.8 946.6) scale(0.98 1)" font-size="18.2" text-anchor="end">Skin diagnosis</text>
<text transform="translate(1285.8 964.6) scale(0.98 1)" font-size="18.2" text-anchor="end">#2-specific</text>
<text transform="translate(1333.16 1022.4) scale(0.98 1)" font-size="18.2" text-anchor="middle">A</text>
<text transform="translate(1358.49 1022.4) scale(0.98 1)" font-size="18.2" text-anchor="middle">C</text>
<text transform="translate(1383.81 1022.4) scale(0.98 1)" font-size="18.2" text-anchor="middle">G</text>
<text transform="translate(1409.14 1022.4) scale(0.98 1)" font-size="18.2" text-anchor="middle">T</text>
<text transform="translate(1434.46 1022.4) scale(0.98 1)" font-size="18.2" text-anchor="middle">A</text>
<text transform="translate(1459.79 1022.4) scale(0.98 1)" font-size="18.2" text-anchor="middle">C</text>
<text transform="translate(1485.11 1022.4) scale(0.98 1)" font-size="18.2" text-anchor="middle">G</text>
<text transform="translate(1510.44 1022.4) scale(0.98 1)" font-size="18.2" text-anchor="middle">T</text>
<text transform="translate(1535.76 1022.4) scale(0.98 1)" font-size="18.2" text-anchor="middle">A</text>
<text transform="translate(1561.09 1022.4) scale(0.98 1)" font-size="18.2" text-anchor="middle">C</text>
<text transform="translate(1586.41 1022.4) scale(0.98 1)" font-size="18.2" text-anchor="middle">G</text>
<text transform="translate(1611.74 1022.4) scale(0.98 1)" font-size="18.2" text-anchor="middle">T</text>
<text transform="translate(1637.06 1022.4) scale(0.98 1)" font-size="18.2" text-anchor="middle">A</text>
<text transform="translate(1662.39 1022.4) scale(0.98 1)" font-size="18.2" text-anchor="middle">C</text>
<text transform="translate(1687.71 1022.4) scale(0.98 1)" font-size="18.2" text-anchor="middle">G</text>
<text transform="translate(1713.04 1022.4) scale(0.98 1)" font-size="18.2" text-anchor="middle">T</text>
<text transform="translate(1738.36 1022.4) scale(0.98 1)" font-size="18.2" text-anchor="middle">A</text>
<text transform="translate(1763.69 1022.4) scale(0.98 1)" font-size="18.2" text-anchor="middle">C</text>
<text transform="translate(1789.01 1022.4) scale(0.98 1)" font-size="18.2" text-anchor="middle">G</text>
<text transform="translate(1814.34 1022.4) scale(0.98 1)" font-size="18.2" text-anchor="middle">T</text>
<text transform="translate(1839.66 1022.4) scale(0.98 1)" font-size="18.2" text-anchor="middle">A</text>
<text transform="translate(1864.99 1022.4) scale(0.98 1)" font-size="18.2" text-anchor="middle">C</text>
<text transform="translate(1890.31 1022.4) scale(0.98 1)" font-size="18.2" text-anchor="middle">G</text>
<text transform="translate(1915.64 1022.4) scale(0.98 1)" font-size="18.2" text-anchor="middle">T</text>
<line x1="1149.5" y1="101.1" x2="1149.5" y2="313.8" stroke="#000" stroke-width="1.5"/>
<text transform="translate(1126.8 207.55) rotate(-90) scale(0.98 1)" font-size="21.7" text-anchor="middle">Patient 7</text>
<line x1="1149.5" y1="334.6" x2="1149.5" y2="547.2" stroke="#000" stroke-width="1.5"/>
<text transform="translate(1126.8 441) rotate(-90) scale(0.98 1)" font-size="21.7" text-anchor="middle">Patient 9</text>
<line x1="1149.5" y1="567.6" x2="1149.5" y2="1002.8" stroke="#000" stroke-width="1.5"/>
<text transform="translate(1126.8 779) rotate(-90) scale(0.98 1)" font-size="21.7" text-anchor="middle">Patient 10</text>
</g>
<path d="M1589.5 1053 V1114.2 H1650.3" fill="none" stroke="#000" stroke-width="1.5"/>
<text transform="translate(1583.8 1114.4) rotate(-90) scale(0.98 1)" font-size="21.8">5’ base</text>
<text transform="translate(1589 1137.9) scale(0.98 1)" font-size="21.9">3’ base</text>
<defs><linearGradient id="gmb" x1="0" x2="1" y1="0" y2="0"><stop offset="0" stop-color="#fcfdbf"/><stop offset="0.05" stop-color="#fde7a9"/><stop offset="0.1" stop-color="#fecf92"/><stop offset="0.15" stop-color="#feb77e"/><stop offset="0.2" stop-color="#fe9f6d"/><stop offset="0.25" stop-color="#fc8961"/><stop offset="0.3" stop-color="#f7705c"/><stop offset="0.35" stop-color="#ed5a5f"/><stop offset="0.4" stop-color="#de4968"/><stop offset="0.45" stop-color="#ca3e72"/><stop offset="0.5" stop-color="#b73779"/><stop offset="0.55" stop-color="#a1307e"/><stop offset="0.6" stop-color="#8c2981"/><stop offset="0.65" stop-color="#782281"/><stop offset="0.7" stop-color="#641a80"/><stop offset="0.75" stop-color="#51127c"/><stop offset="0.8" stop-color="#3b0f70"/><stop offset="0.85" stop-color="#251255"/><stop offset="0.9" stop-color="#140e36"/><stop offset="0.95" stop-color="#06051a"/><stop offset="1" stop-color="#000004"/></linearGradient></defs>
<rect x="1758.5" y="1053.2" width="122.2" height="24.8" fill="url(#gmb)" stroke="#000" stroke-width="1.5"/>
<line x1="1758.5" y1="1078" x2="1758.5" y2="1088" stroke="#000" stroke-width="1.5"/>
<text transform="translate(1758.5 1111.5) scale(0.98 1)" font-size="18" text-anchor="middle">0%</text>
<line x1="1819.6" y1="1078" x2="1819.6" y2="1088" stroke="#000" stroke-width="1.5"/>
<text transform="translate(1819.6 1111.5) scale(0.98 1)" font-size="18" text-anchor="middle">20%</text>
<line x1="1880.7" y1="1078" x2="1880.7" y2="1088" stroke="#000" stroke-width="1.5"/>
<text transform="translate(1880.7 1111.5) scale(0.98 1)" font-size="18" text-anchor="middle">40%</text>
<text transform="translate(1819.6 1141.8) scale(0.98 1)" font-size="21.8" text-anchor="middle">Percent of mutations</text>
<text transform="translate(5.3 887.6) scale(0.98 1)" font-size="42" font-weight="bold">c</text>
<g id="panel-c">
<text transform="translate(562 903) scale(0.98 1)" font-size="25.66" text-anchor="middle">Sequence context WGS</text>
<text transform="translate(308.93 939.9) scale(0.98 1)" font-size="22.3" text-anchor="middle">C&gt;A</text>
<text transform="translate(410.18 939.9) scale(0.98 1)" font-size="22.3" text-anchor="middle">C&gt;G</text>
<text transform="translate(511.43 939.9) scale(0.98 1)" font-size="22.3" text-anchor="middle">C&gt;T</text>
<text transform="translate(612.67 939.9) scale(0.98 1)" font-size="22.3" text-anchor="middle">T&gt;A</text>
<text transform="translate(713.92 939.9) scale(0.98 1)" font-size="22.3" text-anchor="middle">T&gt;C</text>
<text transform="translate(815.17 939.9) scale(0.98 1)" font-size="22.3" text-anchor="middle">T&gt;G</text>
<rect x="258.3" y="952" width="607.5" height="101.1" fill="#fcfdbf"/>
<rect x="258.3" y="952" width="25.61" height="25.57" fill="#fed799"/>
<rect x="308.93" y="952" width="25.61" height="25.57" fill="#fcf9bb"/>
<rect x="334.24" y="952" width="25.61" height="25.57" fill="#fcf4b6"/>
<rect x="359.55" y="952" width="25.61" height="25.57" fill="#fceeb0"/>
<rect x="435.49" y="952" width="25.61" height="25.57" fill="#fcf6b8"/>
<rect x="460.8" y="952" width="25.61" height="25.57" fill="#fed799"/>
<rect x="486.11" y="952" width="25.61" height="25.57" fill="#fde9aa"/>
<rect x="511.43" y="952" width="25.61" height="25.57" fill="#fe9f6d"/>
<rect x="536.74" y="952" width="76.24" height="25.57" fill="#fcf4b6"/>
<rect x="612.67" y="952" width="50.92" height="25.57" fill="#fcf9bb"/>
<rect x="663.3" y="952" width="25.61" height="25.57" fill="#fddea0"/>
<rect x="713.92" y="952" width="25.61" height="25.57" fill="#fcecae"/>
<rect x="739.24" y="952" width="25.61" height="25.57" fill="#fed799"/>
<rect x="258.3" y="977.27" width="50.92" height="25.57" fill="#fceeb0"/>
<rect x="334.24" y="977.27" width="25.61" height="25.57" fill="#fcf9bb"/>
<rect x="384.86" y="977.27" width="25.61" height="25.57" fill="#fcf9bb"/>
<rect x="410.18" y="977.27" width="25.61" height="25.57" fill="#fcfbbd"/>
<rect x="435.49" y="977.27" width="25.61" height="25.57" fill="#fcf6b8"/>
<rect x="460.8" y="977.27" width="50.92" height="25.57" fill="#fde2a3"/>
<rect x="511.43" y="977.27" width="25.61" height="25.57" fill="#fceeb0"/>
<rect x="536.74" y="977.27" width="25.61" height="25.57" fill="#fea772"/>
<rect x="562.05" y="977.27" width="50.92" height="25.57" fill="#fcf9bb"/>
<rect x="637.99" y="977.27" width="25.61" height="25.57" fill="#fde7a9"/>
<rect x="663.3" y="977.27" width="25.61" height="25.57" fill="#fde5a7"/>
<rect x="688.61" y="977.27" width="25.61" height="25.57" fill="#fcecae"/>
<rect x="713.92" y="977.27" width="25.61" height="25.57" fill="#fddea0"/>
<rect x="764.55" y="977.27" width="25.61" height="25.57" fill="#fcf9bb"/>
<rect x="789.86" y="977.27" width="25.61" height="25.57" fill="#fcecae"/>
<rect x="334.24" y="1002.55" width="25.61" height="25.57" fill="#fceeb0"/>
<rect x="359.55" y="1002.55" width="50.92" height="25.57" fill="#fcf9bb"/>
<rect x="486.11" y="1002.55" width="25.61" height="25.57" fill="#fcecae"/>
<rect x="511.43" y="1002.55" width="25.61" height="25.57" fill="#fed194"/>
<rect x="536.74" y="1002.55" width="25.61" height="25.57" fill="#fed799"/>
<rect x="562.05" y="1002.55" width="50.92" height="25.57" fill="#fcf4b6"/>
<rect x="612.67" y="1002.55" width="25.61" height="25.57" fill="#fcf9bb"/>
<rect x="663.3" y="1002.55" width="126.86" height="25.57" fill="#fcf9bb"/>
<rect x="258.3" y="1027.83" width="50.92" height="25.57" fill="#fcf9bb"/>
<rect x="308.93" y="1027.83" width="25.61" height="25.57" fill="#fcfbbd"/>
<rect x="334.24" y="1027.83" width="25.61" height="25.57" fill="#fcf9bb"/>
<rect x="435.49" y="1027.83" width="25.61" height="25.57" fill="#fcf4b6"/>
<rect x="460.8" y="1027.83" width="25.61" height="25.57" fill="#fde2a3"/>
<rect x="486.11" y="1027.83" width="25.61" height="25.57" fill="#fecc8f"/>
<rect x="511.43" y="1027.83" width="25.61" height="25.57" fill="#fdda9c"/>
<rect x="536.74" y="1027.83" width="25.61" height="25.57" fill="#fed89a"/>
<rect x="587.36" y="1027.83" width="50.92" height="25.57" fill="#fcf9bb"/>
<rect x="637.99" y="1027.83" width="25.61" height="25.57" fill="#fceeb0"/>
<rect x="688.61" y="1027.83" width="76.24" height="25.57" fill="#fcf9bb"/>
<rect x="764.55" y="1027.83" width="25.61" height="25.57" fill="#fcfbbd"/>
<rect x="789.86" y="1027.83" width="50.92" height="25.57" fill="#fcf9bb"/>
<rect x="840.49" y="1027.83" width="25.61" height="25.57" fill="#fcfbbd"/>
<line x1="359.55" y1="952" x2="359.55" y2="1053.1" stroke="#000" stroke-width="1.5"/>
<line x1="460.8" y1="952" x2="460.8" y2="1053.1" stroke="#000" stroke-width="1.5"/>
<line x1="562.05" y1="952" x2="562.05" y2="1053.1" stroke="#000" stroke-width="1.5"/>
<line x1="663.3" y1="952" x2="663.3" y2="1053.1" stroke="#000" stroke-width="1.5"/>
<line x1="764.55" y1="952" x2="764.55" y2="1053.1" stroke="#000" stroke-width="1.5"/>
<rect x="258.3" y="952" width="607.5" height="101.1" fill="none" stroke="#000" stroke-width="1.5"/>
<rect x="460.8" y="977.27" width="101.25" height="25.27" fill="none" stroke="#000" stroke-width="3"/>
<text transform="translate(511.03 996.51) scale(0.98 1)" font-size="15.4" text-anchor="middle" fill="#111" stroke="#111">13.7%</text>
<rect x="460.8" y="1027.83" width="101.25" height="25.27" fill="none" stroke="#000" stroke-width="3"/>
<text transform="translate(511.03 1047.06) scale(0.98 1)" font-size="15.4" text-anchor="middle" fill="#111" stroke="#111">13.0%</text>
<text transform="translate(245.5 970.94) scale(0.98 1)" font-size="18.2" text-anchor="middle">A</text>
<text transform="translate(245.5 996.21) scale(0.98 1)" font-size="18.2" text-anchor="middle">C</text>
<text transform="translate(245.5 1021.49) scale(0.98 1)" font-size="18.2" text-anchor="middle">G</text>
<text transform="translate(245.5 1046.76) scale(0.98 1)" font-size="18.2" text-anchor="middle">T</text>
<text transform="translate(861.4 972.2) scale(0.98 1)" font-size="18.3" text-anchor="end">n=161</text>
<text transform="translate(222.2 985.05) scale(0.98 1)" font-size="18.2" text-anchor="end">Bone marrow</text>
<text transform="translate(222.2 1006.75) scale(0.98 1)" font-size="18.2" text-anchor="end">diagnosis &amp;</text>
<text transform="translate(222.2 1028.45) scale(0.98 1)" font-size="18.2" text-anchor="end">remission</text>
<rect x="258.3" y="1063.6" width="607.5" height="101.1" fill="#fcfdbf"/>
<rect x="258.3" y="1063.6" width="25.61" height="25.57" fill="#fcf4b6"/>
<rect x="283.61" y="1063.6" width="25.61" height="25.57" fill="#fcf7b9"/>
<rect x="308.93" y="1063.6" width="50.92" height="25.57" fill="#fcf9bb"/>
<rect x="359.55" y="1063.6" width="25.61" height="25.57" fill="#fcf7b9"/>
<rect x="384.86" y="1063.6" width="50.92" height="25.57" fill="#fcfbbd"/>
<rect x="435.49" y="1063.6" width="25.61" height="25.57" fill="#fcf9bb"/>
<rect x="460.8" y="1063.6" width="25.61" height="25.57" fill="#fcf7b9"/>
<rect x="486.11" y="1063.6" width="25.61" height="25.57" fill="#fde9aa"/>
<rect x="511.43" y="1063.6" width="25.61" height="25.57" fill="#fde7a9"/>
<rect x="536.74" y="1063.6" width="25.61" height="25.57" fill="#fdebac"/>
<rect x="562.05" y="1063.6" width="76.24" height="25.57" fill="#fcf9bb"/>
<rect x="637.99" y="1063.6" width="25.61" height="25.57" fill="#fcf2b4"/>
<rect x="663.3" y="1063.6" width="25.61" height="25.57" fill="#fcf6b8"/>
<rect x="688.61" y="1063.6" width="50.92" height="25.57" fill="#fcf9bb"/>
<rect x="739.24" y="1063.6" width="25.61" height="25.57" fill="#fcf7b9"/>
<rect x="764.55" y="1063.6" width="101.55" height="25.57" fill="#fcfbbd"/>
<rect x="258.3" y="1088.88" width="25.61" height="25.57" fill="#fcf7b9"/>
<rect x="283.61" y="1088.88" width="25.61" height="25.57" fill="#fcf9bb"/>
<rect x="308.93" y="1088.88" width="25.61" height="25.57" fill="#fcfbbd"/>
<rect x="334.24" y="1088.88" width="25.61" height="25.57" fill="#fcf9bb"/>
<rect x="359.55" y="1088.88" width="76.24" height="25.57" fill="#fcfbbd"/>
<rect x="435.49" y="1088.88" width="25.61" height="25.57" fill="#fcf9bb"/>
<rect x="460.8" y="1088.88" width="50.92" height="25.57" fill="#fec488"/>
<rect x="511.43" y="1088.88" width="25.61" height="25.57" fill="#fcecae"/>
<rect x="536.74" y="1088.88" width="25.61" height="25.57" fill="#feaa74"/>
<rect x="562.05" y="1088.88" width="25.61" height="25.57" fill="#fcfbbd"/>
<rect x="587.36" y="1088.88" width="25.61" height="25.57" fill="#fcf9bb"/>
<rect x="612.67" y="1088.88" width="25.61" height="25.57" fill="#fcf7b9"/>
<rect x="637.99" y="1088.88" width="25.61" height="25.57" fill="#fcf9bb"/>
<rect x="663.3" y="1088.88" width="25.61" height="25.57" fill="#fcfbbd"/>
<rect x="688.61" y="1088.88" width="50.92" height="25.57" fill="#fcf9bb"/>
<rect x="739.24" y="1088.88" width="25.61" height="25.57" fill="#fcf7b9"/>
<rect x="764.55" y="1088.88" width="50.92" height="25.57" fill="#fcfbbd"/>
<rect x="815.17" y="1088.88" width="50.92" height="25.57" fill="#fcf9bb"/>
<rect x="258.3" y="1114.15" width="50.92" height="25.57" fill="#fcf9bb"/>
<rect x="308.93" y="1114.15" width="25.61" height="25.57" fill="#fcfbbd"/>
<rect x="334.24" y="1114.15" width="25.61" height="25.57" fill="#fcf9bb"/>
<rect x="359.55" y="1114.15" width="76.24" height="25.57" fill="#fcfbbd"/>
<rect x="435.49" y="1114.15" width="25.61" height="25.57" fill="#fcf9bb"/>
<rect x="460.8" y="1114.15" width="25.61" height="25.57" fill="#fcf4b6"/>
<rect x="486.11" y="1114.15" width="25.61" height="25.57" fill="#fde9aa"/>
<rect x="511.43" y="1114.15" width="25.61" height="25.57" fill="#fdebac"/>
<rect x="536.74" y="1114.15" width="25.61" height="25.57" fill="#fde9aa"/>
<rect x="562.05" y="1114.15" width="50.92" height="25.57" fill="#fcfbbd"/>
<rect x="612.67" y="1114.15" width="50.92" height="25.57" fill="#fcf9bb"/>
<rect x="663.3" y="1114.15" width="25.61" height="25.57" fill="#fcfbbd"/>
<rect x="688.61" y="1114.15" width="50.92" height="25.57" fill="#fcf9bb"/>
<rect x="739.24" y="1114.15" width="25.61" height="25.57" fill="#fcf6b8"/>
<rect x="764.55" y="1114.15" width="50.92" height="25.57" fill="#fcfbbd"/>
<rect x="815.17" y="1114.15" width="25.61" height="25.57" fill="#fcf7b9"/>
<rect x="840.49" y="1114.15" width="25.61" height="25.57" fill="#fcf9bb"/>
<rect x="258.3" y="1139.42" width="76.24" height="25.57" fill="#fcf9bb"/>
<rect x="334.24" y="1139.42" width="25.61" height="25.57" fill="#fcf6b8"/>
<rect x="359.55" y="1139.42" width="76.24" height="25.57" fill="#fcfbbd"/>
<rect x="435.49" y="1139.42" width="25.61" height="25.57" fill="#fcf9bb"/>
<rect x="460.8" y="1139.42" width="25.61" height="25.57" fill="#f56b5c"/>
<rect x="486.11" y="1139.42" width="25.61" height="25.57" fill="#d5446d"/>
<rect x="511.43" y="1139.42" width="25.61" height="25.57" fill="#feac76"/>
<rect x="536.74" y="1139.42" width="25.61" height="25.57" fill="#fc8e64"/>
<rect x="562.05" y="1139.42" width="76.24" height="25.57" fill="#fcf9bb"/>
<rect x="637.99" y="1139.42" width="25.61" height="25.57" fill="#fcf6b8"/>
<rect x="663.3" y="1139.42" width="101.55" height="25.57" fill="#fcf9bb"/>
<rect x="764.55" y="1139.42" width="50.92" height="25.57" fill="#fcfbbd"/>
<rect x="815.17" y="1139.42" width="50.92" height="25.57" fill="#fcf9bb"/>
<line x1="359.55" y1="1063.6" x2="359.55" y2="1164.7" stroke="#000" stroke-width="1.5"/>
<line x1="460.8" y1="1063.6" x2="460.8" y2="1164.7" stroke="#000" stroke-width="1.5"/>
<line x1="562.05" y1="1063.6" x2="562.05" y2="1164.7" stroke="#000" stroke-width="1.5"/>
<line x1="663.3" y1="1063.6" x2="663.3" y2="1164.7" stroke="#000" stroke-width="1.5"/>
<line x1="764.55" y1="1063.6" x2="764.55" y2="1164.7" stroke="#000" stroke-width="1.5"/>
<rect x="258.3" y="1063.6" width="607.5" height="101.1" fill="none" stroke="#000" stroke-width="1.5"/>
<rect x="460.8" y="1088.88" width="101.25" height="25.27" fill="none" stroke="#000" stroke-width="3"/>
<text transform="translate(511.03 1108.11) scale(0.98 1)" font-size="15.4" text-anchor="middle" fill="#111" stroke="#111">18.6%</text>
<rect x="460.8" y="1139.42" width="101.25" height="25.27" fill="none" stroke="#000" stroke-width="3"/>
<text transform="translate(511.03 1158.66) scale(0.98 1)" font-size="15.4" text-anchor="middle" fill="#111" stroke="#111">46.0%</text>
<text transform="translate(245.5 1082.54) scale(0.98 1)" font-size="18.2" text-anchor="middle">A</text>
<text transform="translate(245.5 1107.81) scale(0.98 1)" font-size="18.2" text-anchor="middle">C</text>
<text transform="translate(245.5 1133.09) scale(0.98 1)" font-size="18.2" text-anchor="middle">G</text>
<text transform="translate(245.5 1158.36) scale(0.98 1)" font-size="18.2" text-anchor="middle">T</text>
<text transform="translate(861.4 1083.8) scale(0.98 1)" font-size="18.3" text-anchor="end">n=2,637</text>
<text transform="translate(222.2 1108.05) scale(0.98 1)" font-size="18.2" text-anchor="end">Skin diagnosis-</text>
<text transform="translate(222.2 1129.45) scale(0.98 1)" font-size="18.2" text-anchor="end">specific</text>
<rect x="258.3" y="1175.2" width="607.5" height="101.1" fill="#fcfdbf"/>
<rect x="258.3" y="1175.2" width="25.61" height="25.57" fill="#fcf7b9"/>
<rect x="283.61" y="1175.2" width="101.55" height="25.57" fill="#fcf9bb"/>
<rect x="384.86" y="1175.2" width="50.92" height="25.57" fill="#fcfbbd"/>
<rect x="435.49" y="1175.2" width="50.92" height="25.57" fill="#fcf9bb"/>
<rect x="486.11" y="1175.2" width="25.61" height="25.57" fill="#fceeb0"/>
<rect x="511.43" y="1175.2" width="25.61" height="25.57" fill="#fcf4b6"/>
<rect x="536.74" y="1175.2" width="25.61" height="25.57" fill="#fceeb0"/>
<rect x="562.05" y="1175.2" width="25.61" height="25.57" fill="#fcf7b9"/>
<rect x="587.36" y="1175.2" width="50.92" height="25.57" fill="#fcf9bb"/>
<rect x="637.99" y="1175.2" width="25.61" height="25.57" fill="#fcf4b6"/>
<rect x="663.3" y="1175.2" width="101.55" height="25.57" fill="#fcf9bb"/>
<rect x="764.55" y="1175.2" width="101.55" height="25.57" fill="#fcfbbd"/>
<rect x="258.3" y="1200.48" width="50.92" height="25.57" fill="#fcf9bb"/>
<rect x="308.93" y="1200.48" width="25.61" height="25.57" fill="#fcfbbd"/>
<rect x="334.24" y="1200.48" width="25.61" height="25.57" fill="#fcf9bb"/>
<rect x="359.55" y="1200.48" width="76.24" height="25.57" fill="#fcfbbd"/>
<rect x="435.49" y="1200.48" width="25.61" height="25.57" fill="#fcf9bb"/>
<rect x="460.8" y="1200.48" width="50.92" height="25.57" fill="#fec488"/>
<rect x="511.43" y="1200.48" width="25.61" height="25.57" fill="#fcecae"/>
<rect x="536.74" y="1200.48" width="25.61" height="25.57" fill="#fea16e"/>
<rect x="562.05" y="1200.48" width="25.61" height="25.57" fill="#fcfbbd"/>
<rect x="587.36" y="1200.48" width="152.18" height="25.57" fill="#fcf9bb"/>
<rect x="739.24" y="1200.48" width="25.61" height="25.57" fill="#fcf6b8"/>
<rect x="764.55" y="1200.48" width="101.55" height="25.57" fill="#fcfbbd"/>
<rect x="258.3" y="1225.75" width="50.92" height="25.57" fill="#fcf9bb"/>
<rect x="308.93" y="1225.75" width="25.61" height="25.57" fill="#fcfbbd"/>
<rect x="334.24" y="1225.75" width="25.61" height="25.57" fill="#fcf9bb"/>
<rect x="359.55" y="1225.75" width="76.24" height="25.57" fill="#fcfbbd"/>
<rect x="435.49" y="1225.75" width="25.61" height="25.57" fill="#fcf9bb"/>
<rect x="460.8" y="1225.75" width="25.61" height="25.57" fill="#fcfbbd"/>
<rect x="486.11" y="1225.75" width="25.61" height="25.57" fill="#fcf4b6"/>
<rect x="511.43" y="1225.75" width="25.61" height="25.57" fill="#fcf6b8"/>
<rect x="536.74" y="1225.75" width="25.61" height="25.57" fill="#fceeb0"/>
<rect x="562.05" y="1225.75" width="50.92" height="25.57" fill="#fcfbbd"/>
<rect x="612.67" y="1225.75" width="50.92" height="25.57" fill="#fcf9bb"/>
<rect x="663.3" y="1225.75" width="25.61" height="25.57" fill="#fcfbbd"/>
<rect x="688.61" y="1225.75" width="50.92" height="25.57" fill="#fcf9bb"/>
<rect x="739.24" y="1225.75" width="25.61" height="25.57" fill="#fcf6b8"/>
<rect x="764.55" y="1225.75" width="50.92" height="25.57" fill="#fcfbbd"/>
<rect x="815.17" y="1225.75" width="25.61" height="25.57" fill="#fcf7b9"/>
<rect x="840.49" y="1225.75" width="25.61" height="25.57" fill="#fcfbbd"/>
<rect x="258.3" y="1251.03" width="76.24" height="25.57" fill="#fcf9bb"/>
<rect x="334.24" y="1251.03" width="25.61" height="25.57" fill="#fcf6b8"/>
<rect x="359.55" y="1251.03" width="76.24" height="25.57" fill="#fcfbbd"/>
<rect x="435.49" y="1251.03" width="25.61" height="25.57" fill="#fcf9bb"/>
<rect x="460.8" y="1251.03" width="25.61" height="25.57" fill="#e24d66"/>
<rect x="486.11" y="1251.03" width="25.61" height="25.57" fill="#8c2981"/>
<rect x="511.43" y="1251.03" width="25.61" height="25.57" fill="#feb27a"/>
<rect x="536.74" y="1251.03" width="25.61" height="25.57" fill="#fa7f5e"/>
<rect x="562.05" y="1251.03" width="76.24" height="25.57" fill="#fcf9bb"/>
<rect x="637.99" y="1251.03" width="25.61" height="25.57" fill="#fcf7b9"/>
<rect x="663.3" y="1251.03" width="25.61" height="25.57" fill="#fcf4b6"/>
<rect x="688.61" y="1251.03" width="76.24" height="25.57" fill="#fcf9bb"/>
<rect x="764.55" y="1251.03" width="101.55" height="25.57" fill="#fcfbbd"/>
<line x1="359.55" y1="1175.2" x2="359.55" y2="1276.3" stroke="#000" stroke-width="1.5"/>
<line x1="460.8" y1="1175.2" x2="460.8" y2="1276.3" stroke="#000" stroke-width="1.5"/>
<line x1="562.05" y1="1175.2" x2="562.05" y2="1276.3" stroke="#000" stroke-width="1.5"/>
<line x1="663.3" y1="1175.2" x2="663.3" y2="1276.3" stroke="#000" stroke-width="1.5"/>
<line x1="764.55" y1="1175.2" x2="764.55" y2="1276.3" stroke="#000" stroke-width="1.5"/>
<rect x="258.3" y="1175.2" width="607.5" height="101.1" fill="none" stroke="#000" stroke-width="1.5"/>
<rect x="460.8" y="1200.48" width="101.25" height="25.27" fill="none" stroke="#000" stroke-width="3"/>
<text transform="translate(511.03 1219.71) scale(0.98 1)" font-size="15.4" text-anchor="middle" fill="#111" stroke="#111">19.4%</text>
<rect x="460.8" y="1251.03" width="101.25" height="25.27" fill="none" stroke="#000" stroke-width="3"/>
<text transform="translate(511.03 1270.26) scale(0.98 1)" font-size="15.4" text-anchor="middle" fill="#111" stroke="#111">56.7%</text>
<text transform="translate(245.5 1194.14) scale(0.98 1)" font-size="18.2" text-anchor="middle">A</text>
<text transform="translate(245.5 1219.41) scale(0.98 1)" font-size="18.2" text-anchor="middle">C</text>
<text transform="translate(245.5 1244.69) scale(0.98 1)" font-size="18.2" text-anchor="middle">G</text>
<text transform="translate(245.5 1269.96) scale(0.98 1)" font-size="18.2" text-anchor="middle">T</text>
<text transform="translate(861.4 1195.4) scale(0.98 1)" font-size="18.3" text-anchor="end">n=1,426</text>
<text transform="translate(222.2 1219.65) scale(0.98 1)" font-size="18.2" text-anchor="end">Skin relapse</text>
<text transform="translate(222.2 1241.05) scale(0.98 1)" font-size="18.2" text-anchor="end">#1-specific</text>
<rect x="258.3" y="1286.8" width="607.5" height="101.1" fill="#fcfdbf"/>
<rect x="258.3" y="1286.8" width="25.61" height="25.57" fill="#fcf4b6"/>
<rect x="283.61" y="1286.8" width="25.61" height="25.57" fill="#fcf7b9"/>
<rect x="308.93" y="1286.8" width="50.92" height="25.57" fill="#fcf6b8"/>
<rect x="359.55" y="1286.8" width="25.61" height="25.57" fill="#fcf7b9"/>
<rect x="384.86" y="1286.8" width="50.92" height="25.57" fill="#fcf9bb"/>
<rect x="435.49" y="1286.8" width="25.61" height="25.57" fill="#fcf7b9"/>
<rect x="460.8" y="1286.8" width="25.61" height="25.57" fill="#fcf6b8"/>
<rect x="486.11" y="1286.8" width="25.61" height="25.57" fill="#fceeb0"/>
<rect x="511.43" y="1286.8" width="50.92" height="25.57" fill="#fcf2b4"/>
<rect x="562.05" y="1286.8" width="25.61" height="25.57" fill="#fcf6b8"/>
<rect x="587.36" y="1286.8" width="50.92" height="25.57" fill="#fcf9bb"/>
<rect x="637.99" y="1286.8" width="50.92" height="25.57" fill="#fcf4b6"/>
<rect x="688.61" y="1286.8" width="25.61" height="25.57" fill="#fcf9bb"/>
<rect x="713.92" y="1286.8" width="25.61" height="25.57" fill="#fcf7b9"/>
<rect x="739.24" y="1286.8" width="25.61" height="25.57" fill="#fcf6b8"/>
<rect x="764.55" y="1286.8" width="25.61" height="25.57" fill="#fcf9bb"/>
<rect x="789.86" y="1286.8" width="76.24" height="25.57" fill="#fcfbbd"/>
<rect x="258.3" y="1312.08" width="25.61" height="25.57" fill="#fcf7b9"/>
<rect x="283.61" y="1312.08" width="50.92" height="25.57" fill="#fcf9bb"/>
<rect x="334.24" y="1312.08" width="50.92" height="25.57" fill="#fcf7b9"/>
<rect x="384.86" y="1312.08" width="50.92" height="25.57" fill="#fcf9bb"/>
<rect x="435.49" y="1312.08" width="25.61" height="25.57" fill="#fcf6b8"/>
<rect x="460.8" y="1312.08" width="25.61" height="25.57" fill="#fecf92"/>
<rect x="486.11" y="1312.08" width="25.61" height="25.57" fill="#feca8d"/>
<rect x="511.43" y="1312.08" width="25.61" height="25.57" fill="#fcecae"/>
<rect x="536.74" y="1312.08" width="25.61" height="25.57" fill="#feb97f"/>
<rect x="562.05" y="1312.08" width="50.92" height="25.57" fill="#fcf9bb"/>
<rect x="612.67" y="1312.08" width="25.61" height="25.57" fill="#fcf7b9"/>
<rect x="637.99" y="1312.08" width="25.61" height="25.57" fill="#fcf9bb"/>
<rect x="663.3" y="1312.08" width="25.61" height="25.57" fill="#fcf4b6"/>
<rect x="688.61" y="1312.08" width="50.92" height="25.57" fill="#fcf7b9"/>
<rect x="739.24" y="1312.08" width="25.61" height="25.57" fill="#fcf4b6"/>
<rect x="764.55" y="1312.08" width="50.92" height="25.57" fill="#fcfbbd"/>
<rect x="815.17" y="1312.08" width="50.92" height="25.57" fill="#fcf9bb"/>
<rect x="258.3" y="1337.35" width="25.61" height="25.57" fill="#fcf7b9"/>
<rect x="283.61" y="1337.35" width="50.92" height="25.57" fill="#fcf9bb"/>
<rect x="334.24" y="1337.35" width="50.92" height="25.57" fill="#fcf7b9"/>
<rect x="384.86" y="1337.35" width="50.92" height="25.57" fill="#fcf9bb"/>
<rect x="435.49" y="1337.35" width="25.61" height="25.57" fill="#fcf6b8"/>
<rect x="460.8" y="1337.35" width="25.61" height="25.57" fill="#fcf4b6"/>
<rect x="486.11" y="1337.35" width="50.92" height="25.57" fill="#fcf2b4"/>
<rect x="536.74" y="1337.35" width="25.61" height="25.57" fill="#fceeb0"/>
<rect x="562.05" y="1337.35" width="25.61" height="25.57" fill="#fcf9bb"/>
<rect x="587.36" y="1337.35" width="25.61" height="25.57" fill="#fcfbbd"/>
<rect x="612.67" y="1337.35" width="50.92" height="25.57" fill="#fcf9bb"/>
<rect x="663.3" y="1337.35" width="25.61" height="25.57" fill="#fcf4b6"/>
<rect x="688.61" y="1337.35" width="50.92" height="25.57" fill="#fcf7b9"/>
<rect x="739.24" y="1337.35" width="25.61" height="25.57" fill="#fcf4b6"/>
<rect x="764.55" y="1337.35" width="25.61" height="25.57" fill="#fcf9bb"/>
<rect x="789.86" y="1337.35" width="25.61" height="25.57" fill="#fcfbbd"/>
<rect x="815.17" y="1337.35" width="25.61" height="25.57" fill="#fcf7b9"/>
<rect x="840.49" y="1337.35" width="25.61" height="25.57" fill="#fcf9bb"/>
<rect x="258.3" y="1362.62" width="25.61" height="25.57" fill="#fcf7b9"/>
<rect x="283.61" y="1362.62" width="50.92" height="25.57" fill="#fcf9bb"/>
<rect x="334.24" y="1362.62" width="25.61" height="25.57" fill="#fcf4b6"/>
<rect x="359.55" y="1362.62" width="76.24" height="25.57" fill="#fcf9bb"/>
<rect x="435.49" y="1362.62" width="25.61" height="25.57" fill="#fcf6b8"/>
<rect x="460.8" y="1362.62" width="25.61" height="25.57" fill="#f97b5d"/>
<rect x="486.11" y="1362.62" width="25.61" height="25.57" fill="#ea5661"/>
<rect x="511.43" y="1362.62" width="25.61" height="25.57" fill="#fecf92"/>
<rect x="536.74" y="1362.62" width="25.61" height="25.57" fill="#fc9065"/>
<rect x="562.05" y="1362.62" width="25.61" height="25.57" fill="#fcf7b9"/>
<rect x="587.36" y="1362.62" width="50.92" height="25.57" fill="#fcf9bb"/>
<rect x="637.99" y="1362.62" width="50.92" height="25.57" fill="#fcf4b6"/>
<rect x="688.61" y="1362.62" width="50.92" height="25.57" fill="#fcf7b9"/>
<rect x="739.24" y="1362.62" width="25.61" height="25.57" fill="#fcf2b4"/>
<rect x="764.55" y="1362.62" width="50.92" height="25.57" fill="#fcfbbd"/>
<rect x="815.17" y="1362.62" width="50.92" height="25.57" fill="#fcf9bb"/>
<line x1="359.55" y1="1286.8" x2="359.55" y2="1387.9" stroke="#000" stroke-width="1.5"/>
<line x1="460.8" y1="1286.8" x2="460.8" y2="1387.9" stroke="#000" stroke-width="1.5"/>
<line x1="562.05" y1="1286.8" x2="562.05" y2="1387.9" stroke="#000" stroke-width="1.5"/>
<line x1="663.3" y1="1286.8" x2="663.3" y2="1387.9" stroke="#000" stroke-width="1.5"/>
<line x1="764.55" y1="1286.8" x2="764.55" y2="1387.9" stroke="#000" stroke-width="1.5"/>
<rect x="258.3" y="1286.8" width="607.5" height="101.1" fill="none" stroke="#000" stroke-width="1.5"/>
<rect x="460.8" y="1312.08" width="101.25" height="25.27" fill="none" stroke="#000" stroke-width="3"/>
<text transform="translate(511.03 1331.31) scale(0.98 1)" font-size="15.4" text-anchor="middle" fill="#111" stroke="#111">15.9%</text>
<rect x="460.8" y="1362.62" width="101.25" height="25.27" fill="none" stroke="#000" stroke-width="3"/>
<text transform="translate(511.03 1381.86) scale(0.98 1)" font-size="15.4" text-anchor="middle" fill="#111" stroke="#111">38.8%</text>
<text transform="translate(245.5 1305.74) scale(0.98 1)" font-size="18.2" text-anchor="middle">A</text>
<text transform="translate(245.5 1331.01) scale(0.98 1)" font-size="18.2" text-anchor="middle">C</text>
<text transform="translate(245.5 1356.29) scale(0.98 1)" font-size="18.2" text-anchor="middle">G</text>
<text transform="translate(245.5 1381.56) scale(0.98 1)" font-size="18.2" text-anchor="middle">T</text>
<text transform="translate(861.4 1307) scale(0.98 1)" font-size="18.3" text-anchor="end">n=1,847</text>
<text transform="translate(222.2 1331.25) scale(0.98 1)" font-size="18.2" text-anchor="end">Skin relapse</text>
<text transform="translate(222.2 1352.65) scale(0.98 1)" font-size="18.2" text-anchor="end">#2-specific</text>
<rect x="258.3" y="1408.6" width="607.5" height="101.1" fill="#fcfdbf"/>
<rect x="258.3" y="1408.6" width="25.61" height="25.57" fill="#fcecae"/>
<rect x="283.61" y="1408.6" width="25.61" height="25.57" fill="#fcf7b9"/>
<rect x="308.93" y="1408.6" width="25.61" height="25.57" fill="#fcf9bb"/>
<rect x="334.24" y="1408.6" width="25.61" height="25.57" fill="#fcf2b4"/>
<rect x="359.55" y="1408.6" width="25.61" height="25.57" fill="#fde9aa"/>
<rect x="384.86" y="1408.6" width="76.24" height="25.57" fill="#fcf6b8"/>
<rect x="460.8" y="1408.6" width="25.61" height="25.57" fill="#feca8d"/>
<rect x="486.11" y="1408.6" width="25.61" height="25.57" fill="#fde2a3"/>
<rect x="511.43" y="1408.6" width="25.61" height="25.57" fill="#fed194"/>
<rect x="536.74" y="1408.6" width="25.61" height="25.57" fill="#fde7a9"/>
<rect x="562.05" y="1408.6" width="25.61" height="25.57" fill="#fcf0b2"/>
<rect x="587.36" y="1408.6" width="25.61" height="25.57" fill="#fcf6b8"/>
<rect x="612.67" y="1408.6" width="25.61" height="25.57" fill="#fcf9bb"/>
<rect x="637.99" y="1408.6" width="25.61" height="25.57" fill="#fde9aa"/>
<rect x="663.3" y="1408.6" width="25.61" height="25.57" fill="#fde0a1"/>
<rect x="688.61" y="1408.6" width="25.61" height="25.57" fill="#fde5a7"/>
<rect x="713.92" y="1408.6" width="25.61" height="25.57" fill="#fde7a9"/>
<rect x="739.24" y="1408.6" width="25.61" height="25.57" fill="#fde2a3"/>
<rect x="764.55" y="1408.6" width="101.55" height="25.57" fill="#fcf7b9"/>
<rect x="258.3" y="1433.88" width="25.61" height="25.57" fill="#fcecae"/>
<rect x="283.61" y="1433.88" width="25.61" height="25.57" fill="#fcf9bb"/>
<rect x="308.93" y="1433.88" width="25.61" height="25.57" fill="#fcfbbd"/>
<rect x="334.24" y="1433.88" width="25.61" height="25.57" fill="#fcf4b6"/>
<rect x="359.55" y="1433.88" width="25.61" height="25.57" fill="#fcf6b8"/>
<rect x="384.86" y="1433.88" width="25.61" height="25.57" fill="#fcfbbd"/>
<rect x="410.18" y="1433.88" width="50.92" height="25.57" fill="#fcf6b8"/>
<rect x="460.8" y="1433.88" width="25.61" height="25.57" fill="#fde9aa"/>
<rect x="486.11" y="1433.88" width="25.61" height="25.57" fill="#fcf0b2"/>
<rect x="511.43" y="1433.88" width="25.61" height="25.57" fill="#fcecae"/>
<rect x="536.74" y="1433.88" width="25.61" height="25.57" fill="#fde2a3"/>
<rect x="562.05" y="1433.88" width="25.61" height="25.57" fill="#fcf7b9"/>
<rect x="587.36" y="1433.88" width="25.61" height="25.57" fill="#fcf0b2"/>
<rect x="612.67" y="1433.88" width="25.61" height="25.57" fill="#fcf7b9"/>
<rect x="637.99" y="1433.88" width="25.61" height="25.57" fill="#fcf4b6"/>
<rect x="663.3" y="1433.88" width="25.61" height="25.57" fill="#fcf7b9"/>
<rect x="688.61" y="1433.88" width="25.61" height="25.57" fill="#fde2a3"/>
<rect x="713.92" y="1433.88" width="25.61" height="25.57" fill="#fceeb0"/>
<rect x="739.24" y="1433.88" width="25.61" height="25.57" fill="#fde2a3"/>
<rect x="764.55" y="1433.88" width="25.61" height="25.57" fill="#fcfbbd"/>
<rect x="789.86" y="1433.88" width="25.61" height="25.57" fill="#fcf7b9"/>
<rect x="815.17" y="1433.88" width="25.61" height="25.57" fill="#fcfbbd"/>
<rect x="840.49" y="1433.88" width="25.61" height="25.57" fill="#fcf6b8"/>
<rect x="258.3" y="1459.15" width="25.61" height="25.57" fill="#fdebac"/>
<rect x="283.61" y="1459.15" width="25.61" height="25.57" fill="#fcf7b9"/>
<rect x="308.93" y="1459.15" width="25.61" height="25.57" fill="#fcf9bb"/>
<rect x="334.24" y="1459.15" width="25.61" height="25.57" fill="#fcf4b6"/>
<rect x="359.55" y="1459.15" width="25.61" height="25.57" fill="#fcf6b8"/>
<rect x="384.86" y="1459.15" width="25.61" height="25.57" fill="#fcf9bb"/>
<rect x="410.18" y="1459.15" width="25.61" height="25.57" fill="#fcecae"/>
<rect x="435.49" y="1459.15" width="25.61" height="25.57" fill="#fcfbbd"/>
<rect x="460.8" y="1459.15" width="25.61" height="25.57" fill="#fcf2b4"/>
<rect x="486.11" y="1459.15" width="25.61" height="25.57" fill="#fdebac"/>
<rect x="511.43" y="1459.15" width="25.61" height="25.57" fill="#fddea0"/>
<rect x="536.74" y="1459.15" width="25.61" height="25.57" fill="#fcecae"/>
<rect x="562.05" y="1459.15" width="25.61" height="25.57" fill="#fcf7b9"/>
<rect x="587.36" y="1459.15" width="25.61" height="25.57" fill="#fcf0b2"/>
<rect x="612.67" y="1459.15" width="25.61" height="25.57" fill="#fceeb0"/>
<rect x="637.99" y="1459.15" width="25.61" height="25.57" fill="#fcf9bb"/>
<rect x="663.3" y="1459.15" width="25.61" height="25.57" fill="#fcf4b6"/>
<rect x="688.61" y="1459.15" width="25.61" height="25.57" fill="#fceeb0"/>
<rect x="713.92" y="1459.15" width="50.92" height="25.57" fill="#fcf0b2"/>
<rect x="764.55" y="1459.15" width="50.92" height="25.57" fill="#fcf9bb"/>
<rect x="815.17" y="1459.15" width="25.61" height="25.57" fill="#fcf4b6"/>
<rect x="840.49" y="1459.15" width="25.61" height="25.57" fill="#fcf7b9"/>
<rect x="258.3" y="1484.42" width="25.61" height="25.57" fill="#fcfbbd"/>
<rect x="283.61" y="1484.42" width="25.61" height="25.57" fill="#fcf7b9"/>
<rect x="308.93" y="1484.42" width="25.61" height="25.57" fill="#fcf9bb"/>
<rect x="334.24" y="1484.42" width="25.61" height="25.57" fill="#fcf0b2"/>
<rect x="359.55" y="1484.42" width="25.61" height="25.57" fill="#fcf6b8"/>
<rect x="384.86" y="1484.42" width="50.92" height="25.57" fill="#fcf9bb"/>
<rect x="435.49" y="1484.42" width="25.61" height="25.57" fill="#fde9aa"/>
<rect x="460.8" y="1484.42" width="25.61" height="25.57" fill="#fcecae"/>
<rect x="486.11" y="1484.42" width="25.61" height="25.57" fill="#fcf2b4"/>
<rect x="511.43" y="1484.42" width="25.61" height="25.57" fill="#fcf0b2"/>
<rect x="536.74" y="1484.42" width="25.61" height="25.57" fill="#fdebac"/>
<rect x="562.05" y="1484.42" width="25.61" height="25.57" fill="#fde9aa"/>
<rect x="587.36" y="1484.42" width="50.92" height="25.57" fill="#fcf9bb"/>
<rect x="637.99" y="1484.42" width="25.61" height="25.57" fill="#fde2a3"/>
<rect x="663.3" y="1484.42" width="25.61" height="25.57" fill="#fcf6b8"/>
<rect x="688.61" y="1484.42" width="25.61" height="25.57" fill="#fcf0b2"/>
<rect x="713.92" y="1484.42" width="25.61" height="25.57" fill="#fcf4b6"/>
<rect x="739.24" y="1484.42" width="25.61" height="25.57" fill="#fde0a1"/>
<rect x="764.55" y="1484.42" width="25.61" height="25.57" fill="#fcf7b9"/>
<rect x="789.86" y="1484.42" width="50.92" height="25.57" fill="#fcf6b8"/>
<rect x="840.49" y="1484.42" width="25.61" height="25.57" fill="#fde5a7"/>
<line x1="359.55" y1="1408.6" x2="359.55" y2="1509.7" stroke="#000" stroke-width="1.5"/>
<line x1="460.8" y1="1408.6" x2="460.8" y2="1509.7" stroke="#000" stroke-width="1.5"/>
<line x1="562.05" y1="1408.6" x2="562.05" y2="1509.7" stroke="#000" stroke-width="1.5"/>
<line x1="663.3" y1="1408.6" x2="663.3" y2="1509.7" stroke="#000" stroke-width="1.5"/>
<line x1="764.55" y1="1408.6" x2="764.55" y2="1509.7" stroke="#000" stroke-width="1.5"/>
<rect x="258.3" y="1408.6" width="607.5" height="101.1" fill="none" stroke="#000" stroke-width="1.5"/>
<rect x="460.8" y="1433.88" width="101.25" height="25.27" fill="none" stroke="#000" stroke-width="3"/>
<text transform="translate(511.03 1453.11) scale(0.98 1)" font-size="15.4" text-anchor="middle" fill="#111" stroke="#111">7.0%</text>
<rect x="460.8" y="1484.42" width="101.25" height="25.27" fill="none" stroke="#000" stroke-width="3"/>
<text transform="translate(511.03 1503.66) scale(0.98 1)" font-size="15.4" text-anchor="middle" fill="#111" stroke="#111">5.3%</text>
<text transform="translate(245.5 1427.54) scale(0.98 1)" font-size="18.2" text-anchor="middle">A</text>
<text transform="translate(245.5 1452.81) scale(0.98 1)" font-size="18.2" text-anchor="middle">C</text>
<text transform="translate(245.5 1478.09) scale(0.98 1)" font-size="18.2" text-anchor="middle">G</text>
<text transform="translate(245.5 1503.36) scale(0.98 1)" font-size="18.2" text-anchor="middle">T</text>
<text transform="translate(861.4 1428.8) scale(0.98 1)" font-size="18.3" text-anchor="end">n=513</text>
<text transform="translate(222.2 1453.05) scale(0.98 1)" font-size="18.2" text-anchor="end">Bone marrow</text>
<text transform="translate(222.2 1474.45) scale(0.98 1)" font-size="18.2" text-anchor="end">diagnosis</text>
<rect x="258.3" y="1530.4" width="607.5" height="101.1" fill="#fcfdbf"/>
<rect x="258.3" y="1530.4" width="25.61" height="25.57" fill="#fde2a3"/>
<rect x="283.61" y="1530.4" width="25.61" height="25.57" fill="#fde9aa"/>
<rect x="308.93" y="1530.4" width="25.61" height="25.57" fill="#fcf6b8"/>
<rect x="334.24" y="1530.4" width="25.61" height="25.57" fill="#fcf7b9"/>
<rect x="359.55" y="1530.4" width="25.61" height="25.57" fill="#fcf4b6"/>
<rect x="384.86" y="1530.4" width="50.92" height="25.57" fill="#fcf7b9"/>
<rect x="435.49" y="1530.4" width="25.61" height="25.57" fill="#fceeb0"/>
<rect x="460.8" y="1530.4" width="25.61" height="25.57" fill="#fddea0"/>
<rect x="486.11" y="1530.4" width="25.61" height="25.57" fill="#fde2a3"/>
<rect x="511.43" y="1530.4" width="25.61" height="25.57" fill="#feb27a"/>
<rect x="536.74" y="1530.4" width="25.61" height="25.57" fill="#fde0a1"/>
<rect x="562.05" y="1530.4" width="25.61" height="25.57" fill="#fcf4b6"/>
<rect x="587.36" y="1530.4" width="50.92" height="25.57" fill="#fcf6b8"/>
<rect x="637.99" y="1530.4" width="25.61" height="25.57" fill="#fcf4b6"/>
<rect x="663.3" y="1530.4" width="25.61" height="25.57" fill="#fed89a"/>
<rect x="688.61" y="1530.4" width="50.92" height="25.57" fill="#fde2a3"/>
<rect x="739.24" y="1530.4" width="25.61" height="25.57" fill="#fde0a1"/>
<rect x="764.55" y="1530.4" width="25.61" height="25.57" fill="#fcf0b2"/>
<rect x="789.86" y="1530.4" width="76.24" height="25.57" fill="#fcf9bb"/>
<rect x="258.3" y="1555.68" width="50.92" height="25.57" fill="#fcf6b8"/>
<rect x="308.93" y="1555.68" width="25.61" height="25.57" fill="#fcf7b9"/>
<rect x="334.24" y="1555.68" width="50.92" height="25.57" fill="#fcf4b6"/>
<rect x="384.86" y="1555.68" width="25.61" height="25.57" fill="#fcfbbd"/>
<rect x="410.18" y="1555.68" width="50.92" height="25.57" fill="#fcf7b9"/>
<rect x="460.8" y="1555.68" width="25.61" height="25.57" fill="#fde9aa"/>
<rect x="486.11" y="1555.68" width="25.61" height="25.57" fill="#fceeb0"/>
<rect x="511.43" y="1555.68" width="25.61" height="25.57" fill="#fcecae"/>
<rect x="536.74" y="1555.68" width="25.61" height="25.57" fill="#fdda9c"/>
<rect x="562.05" y="1555.68" width="25.61" height="25.57" fill="#fdebac"/>
<rect x="587.36" y="1555.68" width="25.61" height="25.57" fill="#fcfbbd"/>
<rect x="612.67" y="1555.68" width="50.92" height="25.57" fill="#fcf6b8"/>
<rect x="663.3" y="1555.68" width="25.61" height="25.57" fill="#fcf4b6"/>
<rect x="688.61" y="1555.68" width="50.92" height="25.57" fill="#fcf2b4"/>
<rect x="739.24" y="1555.68" width="25.61" height="25.57" fill="#fde7a9"/>
<rect x="764.55" y="1555.68" width="76.24" height="25.57" fill="#fcf9bb"/>
<rect x="840.49" y="1555.68" width="25.61" height="25.57" fill="#fcf7b9"/>
<rect x="258.3" y="1580.95" width="25.61" height="25.57" fill="#fcf4b6"/>
<rect x="283.61" y="1580.95" width="25.61" height="25.57" fill="#fcfbbd"/>
<rect x="308.93" y="1580.95" width="25.61" height="25.57" fill="#fcf7b9"/>
<rect x="334.24" y="1580.95" width="50.92" height="25.57" fill="#fcf6b8"/>
<rect x="384.86" y="1580.95" width="25.61" height="25.57" fill="#fcf4b6"/>
<rect x="410.18" y="1580.95" width="25.61" height="25.57" fill="#fcf6b8"/>
<rect x="435.49" y="1580.95" width="25.61" height="25.57" fill="#fcf7b9"/>
<rect x="460.8" y="1580.95" width="25.61" height="25.57" fill="#fcf0b2"/>
<rect x="486.11" y="1580.95" width="25.61" height="25.57" fill="#fdebac"/>
<rect x="511.43" y="1580.95" width="25.61" height="25.57" fill="#fde7a9"/>
<rect x="536.74" y="1580.95" width="25.61" height="25.57" fill="#fde0a1"/>
<rect x="562.05" y="1580.95" width="25.61" height="25.57" fill="#fcf7b9"/>
<rect x="587.36" y="1580.95" width="76.24" height="25.57" fill="#fcf6b8"/>
<rect x="663.3" y="1580.95" width="25.61" height="25.57" fill="#fcf4b6"/>
<rect x="688.61" y="1580.95" width="25.61" height="25.57" fill="#fcf9bb"/>
<rect x="713.92" y="1580.95" width="25.61" height="25.57" fill="#fcf4b6"/>
<rect x="739.24" y="1580.95" width="25.61" height="25.57" fill="#fceeb0"/>
<rect x="764.55" y="1580.95" width="25.61" height="25.57" fill="#fcf6b8"/>
<rect x="789.86" y="1580.95" width="76.24" height="25.57" fill="#fcf7b9"/>
<rect x="258.3" y="1606.23" width="50.92" height="25.57" fill="#fcf6b8"/>
<rect x="308.93" y="1606.23" width="25.61" height="25.57" fill="#fcf7b9"/>
<rect x="334.24" y="1606.23" width="25.61" height="25.57" fill="#fcf4b6"/>
<rect x="359.55" y="1606.23" width="76.24" height="25.57" fill="#fcf7b9"/>
<rect x="435.49" y="1606.23" width="25.61" height="25.57" fill="#fceeb0"/>
<rect x="460.8" y="1606.23" width="25.61" height="25.57" fill="#fed799"/>
<rect x="486.11" y="1606.23" width="25.61" height="25.57" fill="#fcecae"/>
<rect x="511.43" y="1606.23" width="25.61" height="25.57" fill="#fceeb0"/>
<rect x="536.74" y="1606.23" width="25.61" height="25.57" fill="#fde7a9"/>
<rect x="562.05" y="1606.23" width="50.92" height="25.57" fill="#fcf6b8"/>
<rect x="612.67" y="1606.23" width="76.24" height="25.57" fill="#fcf4b6"/>
<rect x="688.61" y="1606.23" width="25.61" height="25.57" fill="#fcf7b9"/>
<rect x="713.92" y="1606.23" width="25.61" height="25.57" fill="#fcf4b6"/>
<rect x="739.24" y="1606.23" width="25.61" height="25.57" fill="#fceeb0"/>
<rect x="764.55" y="1606.23" width="25.61" height="25.57" fill="#fcf6b8"/>
<rect x="789.86" y="1606.23" width="50.92" height="25.57" fill="#fcf7b9"/>
<rect x="840.49" y="1606.23" width="25.61" height="25.57" fill="#fcf6b8"/>
<line x1="359.55" y1="1530.4" x2="359.55" y2="1631.5" stroke="#000" stroke-width="1.5"/>
<line x1="460.8" y1="1530.4" x2="460.8" y2="1631.5" stroke="#000" stroke-width="1.5"/>
<line x1="562.05" y1="1530.4" x2="562.05" y2="1631.5" stroke="#000" stroke-width="1.5"/>
<line x1="663.3" y1="1530.4" x2="663.3" y2="1631.5" stroke="#000" stroke-width="1.5"/>
<line x1="764.55" y1="1530.4" x2="764.55" y2="1631.5" stroke="#000" stroke-width="1.5"/>
<rect x="258.3" y="1530.4" width="607.5" height="101.1" fill="none" stroke="#000" stroke-width="1.5"/>
<rect x="460.8" y="1555.68" width="101.25" height="25.27" fill="none" stroke="#000" stroke-width="3"/>
<text transform="translate(511.03 1574.91) scale(0.98 1)" font-size="15.4" text-anchor="middle" fill="#111" stroke="#111">7.7%</text>
<rect x="460.8" y="1606.23" width="101.25" height="25.27" fill="none" stroke="#000" stroke-width="3"/>
<text transform="translate(511.03 1625.46) scale(0.98 1)" font-size="15.4" text-anchor="middle" fill="#111" stroke="#111">8.2%</text>
<text transform="translate(245.5 1549.34) scale(0.98 1)" font-size="18.2" text-anchor="middle">A</text>
<text transform="translate(245.5 1574.61) scale(0.98 1)" font-size="18.2" text-anchor="middle">C</text>
<text transform="translate(245.5 1599.89) scale(0.98 1)" font-size="18.2" text-anchor="middle">G</text>
<text transform="translate(245.5 1625.16) scale(0.98 1)" font-size="18.2" text-anchor="middle">T</text>
<text transform="translate(861.4 1550.6) scale(0.98 1)" font-size="18.3" text-anchor="end">n=416</text>
<text transform="translate(222.2 1574.85) scale(0.98 1)" font-size="18.2" text-anchor="end">Bone marrow</text>
<text transform="translate(222.2 1596.25) scale(0.98 1)" font-size="18.2" text-anchor="end">diagnosis</text>
<rect x="258.3" y="1641.9" width="607.5" height="101.1" fill="#fcfdbf"/>
<rect x="258.3" y="1641.9" width="25.61" height="25.57" fill="#fdebac"/>
<rect x="283.61" y="1641.9" width="25.61" height="25.57" fill="#fcf0b2"/>
<rect x="308.93" y="1641.9" width="25.61" height="25.57" fill="#fcf9bb"/>
<rect x="334.24" y="1641.9" width="25.61" height="25.57" fill="#fcf0b2"/>
<rect x="359.55" y="1641.9" width="25.61" height="25.57" fill="#fdebac"/>
<rect x="384.86" y="1641.9" width="25.61" height="25.57" fill="#fcfbbd"/>
<rect x="410.18" y="1641.9" width="25.61" height="25.57" fill="#fcf6b8"/>
<rect x="435.49" y="1641.9" width="25.61" height="25.57" fill="#fcf2b4"/>
<rect x="460.8" y="1641.9" width="25.61" height="25.57" fill="#fde7a9"/>
<rect x="486.11" y="1641.9" width="25.61" height="25.57" fill="#fddea0"/>
<rect x="511.43" y="1641.9" width="25.61" height="25.57" fill="#fea772"/>
<rect x="536.74" y="1641.9" width="25.61" height="25.57" fill="#fde0a1"/>
<rect x="562.05" y="1641.9" width="25.61" height="25.57" fill="#fcf0b2"/>
<rect x="587.36" y="1641.9" width="25.61" height="25.57" fill="#fcf7b9"/>
<rect x="612.67" y="1641.9" width="25.61" height="25.57" fill="#fcf2b4"/>
<rect x="637.99" y="1641.9" width="50.92" height="25.57" fill="#fdebac"/>
<rect x="688.61" y="1641.9" width="25.61" height="25.57" fill="#fcf4b6"/>
<rect x="713.92" y="1641.9" width="25.61" height="25.57" fill="#fcecae"/>
<rect x="739.24" y="1641.9" width="25.61" height="25.57" fill="#fdebac"/>
<rect x="764.55" y="1641.9" width="25.61" height="25.57" fill="#fcf4b6"/>
<rect x="789.86" y="1641.9" width="76.24" height="25.57" fill="#fcf9bb"/>
<rect x="258.3" y="1667.18" width="25.61" height="25.57" fill="#fcf2b4"/>
<rect x="283.61" y="1667.18" width="25.61" height="25.57" fill="#fcf4b6"/>
<rect x="308.93" y="1667.18" width="25.61" height="25.57" fill="#fcf9bb"/>
<rect x="334.24" y="1667.18" width="25.61" height="25.57" fill="#fcf2b4"/>
<rect x="359.55" y="1667.18" width="25.61" height="25.57" fill="#fcf7b9"/>
<rect x="384.86" y="1667.18" width="25.61" height="25.57" fill="#fcf2b4"/>
<rect x="410.18" y="1667.18" width="25.61" height="25.57" fill="#fcf7b9"/>
<rect x="435.49" y="1667.18" width="25.61" height="25.57" fill="#fcf4b6"/>
<rect x="460.8" y="1667.18" width="25.61" height="25.57" fill="#fde7a9"/>
<rect x="486.11" y="1667.18" width="25.61" height="25.57" fill="#fde9aa"/>
<rect x="511.43" y="1667.18" width="25.61" height="25.57" fill="#fcf2b4"/>
<rect x="536.74" y="1667.18" width="25.61" height="25.57" fill="#fed799"/>
<rect x="562.05" y="1667.18" width="25.61" height="25.57" fill="#fcfbbd"/>
<rect x="587.36" y="1667.18" width="50.92" height="25.57" fill="#fcf6b8"/>
<rect x="637.99" y="1667.18" width="50.92" height="25.57" fill="#fde7a9"/>
<rect x="688.61" y="1667.18" width="25.61" height="25.57" fill="#fcf0b2"/>
<rect x="713.92" y="1667.18" width="25.61" height="25.57" fill="#fcf4b6"/>
<rect x="739.24" y="1667.18" width="25.61" height="25.57" fill="#fcf2b4"/>
<rect x="764.55" y="1667.18" width="25.61" height="25.57" fill="#fcf7b9"/>
<rect x="789.86" y="1667.18" width="25.61" height="25.57" fill="#fcf6b8"/>
<rect x="815.17" y="1667.18" width="25.61" height="25.57" fill="#fcf7b9"/>
<rect x="840.49" y="1667.18" width="25.61" height="25.57" fill="#feca8d"/>
<rect x="258.3" y="1692.45" width="50.92" height="25.57" fill="#fcf6b8"/>
<rect x="308.93" y="1692.45" width="25.61" height="25.57" fill="#fcf9bb"/>
<rect x="334.24" y="1692.45" width="25.61" height="25.57" fill="#fcf2b4"/>
<rect x="359.55" y="1692.45" width="76.24" height="25.57" fill="#fcf7b9"/>
<rect x="435.49" y="1692.45" width="25.61" height="25.57" fill="#fcf4b6"/>
<rect x="460.8" y="1692.45" width="25.61" height="25.57" fill="#fdebac"/>
<rect x="486.11" y="1692.45" width="50.92" height="25.57" fill="#fde2a3"/>
<rect x="536.74" y="1692.45" width="25.61" height="25.57" fill="#fdebac"/>
<rect x="562.05" y="1692.45" width="50.92" height="25.57" fill="#fcf6b8"/>
<rect x="612.67" y="1692.45" width="25.61" height="25.57" fill="#fcf7b9"/>
<rect x="637.99" y="1692.45" width="25.61" height="25.57" fill="#fcf4b6"/>
<rect x="663.3" y="1692.45" width="50.92" height="25.57" fill="#fcf2b4"/>
<rect x="713.92" y="1692.45" width="25.61" height="25.57" fill="#fcf4b6"/>
<rect x="739.24" y="1692.45" width="25.61" height="25.57" fill="#fcf0b2"/>
<rect x="764.55" y="1692.45" width="25.61" height="25.57" fill="#fcf6b8"/>
<rect x="789.86" y="1692.45" width="50.92" height="25.57" fill="#fcf7b9"/>
<rect x="840.49" y="1692.45" width="25.61" height="25.57" fill="#fde2a3"/>
<rect x="258.3" y="1717.73" width="25.61" height="25.57" fill="#fcf0b2"/>
<rect x="283.61" y="1717.73" width="50.92" height="25.57" fill="#fcf7b9"/>
<rect x="334.24" y="1717.73" width="25.61" height="25.57" fill="#fed89a"/>
<rect x="359.55" y="1717.73" width="76.24" height="25.57" fill="#fcf7b9"/>
<rect x="435.49" y="1717.73" width="25.61" height="25.57" fill="#fcf4b6"/>
<rect x="460.8" y="1717.73" width="25.61" height="25.57" fill="#fde3a5"/>
<rect x="486.11" y="1717.73" width="25.61" height="25.57" fill="#fde9aa"/>
<rect x="511.43" y="1717.73" width="25.61" height="25.57" fill="#fcecae"/>
<rect x="536.74" y="1717.73" width="25.61" height="25.57" fill="#fde2a3"/>
<rect x="562.05" y="1717.73" width="50.92" height="25.57" fill="#fcf0b2"/>
<rect x="612.67" y="1717.73" width="25.61" height="25.57" fill="#fcf7b9"/>
<rect x="637.99" y="1717.73" width="25.61" height="25.57" fill="#fcf0b2"/>
<rect x="663.3" y="1717.73" width="25.61" height="25.57" fill="#fde3a5"/>
<rect x="688.61" y="1717.73" width="25.61" height="25.57" fill="#fdebac"/>
<rect x="713.92" y="1717.73" width="25.61" height="25.57" fill="#fcf4b6"/>
<rect x="739.24" y="1717.73" width="25.61" height="25.57" fill="#fcf2b4"/>
<rect x="764.55" y="1717.73" width="25.61" height="25.57" fill="#fcf9bb"/>
<rect x="789.86" y="1717.73" width="50.92" height="25.57" fill="#fcf7b9"/>
<rect x="840.49" y="1717.73" width="25.61" height="25.57" fill="#fed89a"/>
<line x1="359.55" y1="1641.9" x2="359.55" y2="1743" stroke="#000" stroke-width="1.5"/>
<line x1="460.8" y1="1641.9" x2="460.8" y2="1743" stroke="#000" stroke-width="1.5"/>
<line x1="562.05" y1="1641.9" x2="562.05" y2="1743" stroke="#000" stroke-width="1.5"/>
<line x1="663.3" y1="1641.9" x2="663.3" y2="1743" stroke="#000" stroke-width="1.5"/>
<line x1="764.55" y1="1641.9" x2="764.55" y2="1743" stroke="#000" stroke-width="1.5"/>
<rect x="258.3" y="1641.9" width="607.5" height="101.1" fill="none" stroke="#000" stroke-width="1.5"/>
<rect x="460.8" y="1667.18" width="101.25" height="25.27" fill="none" stroke="#000" stroke-width="3"/>
<text transform="translate(511.03 1686.41) scale(0.98 1)" font-size="15.4" text-anchor="middle" fill="#111" stroke="#111">8.2%</text>
<rect x="460.8" y="1717.73" width="101.25" height="25.27" fill="none" stroke="#000" stroke-width="3"/>
<text transform="translate(511.03 1736.96) scale(0.98 1)" font-size="15.4" text-anchor="middle" fill="#111" stroke="#111">7.9%</text>
<text transform="translate(245.5 1660.84) scale(0.98 1)" font-size="18.2" text-anchor="middle">A</text>
<text transform="translate(245.5 1686.11) scale(0.98 1)" font-size="18.2" text-anchor="middle">C</text>
<text transform="translate(245.5 1711.39) scale(0.98 1)" font-size="18.2" text-anchor="middle">G</text>
<text transform="translate(245.5 1736.66) scale(0.98 1)" font-size="18.2" text-anchor="middle">T</text>
<text transform="translate(861.4 1662.1) scale(0.98 1)" font-size="18.3" text-anchor="end">n=343</text>
<text transform="translate(222.2 1686.35) scale(0.98 1)" font-size="18.2" text-anchor="end">Skin diagnosis-</text>
<text transform="translate(222.2 1707.75) scale(0.98 1)" font-size="18.2" text-anchor="end">specific</text>
<rect x="258.3" y="1753.2" width="607.5" height="101.1" fill="#fcfdbf"/>
<rect x="258.3" y="1753.2" width="25.61" height="25.57" fill="#fcf2b4"/>
<rect x="283.61" y="1753.2" width="25.61" height="25.57" fill="#fcf0b2"/>
<rect x="308.93" y="1753.2" width="50.92" height="25.57" fill="#fcf4b6"/>
<rect x="359.55" y="1753.2" width="101.55" height="25.57" fill="#fcf6b8"/>
<rect x="460.8" y="1753.2" width="50.92" height="25.57" fill="#fcecae"/>
<rect x="511.43" y="1753.2" width="25.61" height="25.57" fill="#fde9aa"/>
<rect x="536.74" y="1753.2" width="25.61" height="25.57" fill="#fdebac"/>
<rect x="562.05" y="1753.2" width="25.61" height="25.57" fill="#fcf4b6"/>
<rect x="587.36" y="1753.2" width="25.61" height="25.57" fill="#fcf7b9"/>
<rect x="612.67" y="1753.2" width="25.61" height="25.57" fill="#fcf4b6"/>
<rect x="637.99" y="1753.2" width="25.61" height="25.57" fill="#fcf0b2"/>
<rect x="663.3" y="1753.2" width="50.92" height="25.57" fill="#fceeb0"/>
<rect x="713.92" y="1753.2" width="50.92" height="25.57" fill="#fcf4b6"/>
<rect x="764.55" y="1753.2" width="25.61" height="25.57" fill="#fcf6b8"/>
<rect x="789.86" y="1753.2" width="76.24" height="25.57" fill="#fcf7b9"/>
<rect x="258.3" y="1778.48" width="25.61" height="25.57" fill="#fcf4b6"/>
<rect x="283.61" y="1778.48" width="25.61" height="25.57" fill="#fcf9bb"/>
<rect x="308.93" y="1778.48" width="25.61" height="25.57" fill="#fcf4b6"/>
<rect x="334.24" y="1778.48" width="25.61" height="25.57" fill="#fcecae"/>
<rect x="359.55" y="1778.48" width="76.24" height="25.57" fill="#fcf7b9"/>
<rect x="435.49" y="1778.48" width="25.61" height="25.57" fill="#fcf2b4"/>
<rect x="460.8" y="1778.48" width="25.61" height="25.57" fill="#fed89a"/>
<rect x="486.11" y="1778.48" width="25.61" height="25.57" fill="#fddea0"/>
<rect x="511.43" y="1778.48" width="25.61" height="25.57" fill="#fcf0b2"/>
<rect x="536.74" y="1778.48" width="25.61" height="25.57" fill="#fec68a"/>
<rect x="562.05" y="1778.48" width="25.61" height="25.57" fill="#fcf6b8"/>
<rect x="587.36" y="1778.48" width="25.61" height="25.57" fill="#fcf4b6"/>
<rect x="612.67" y="1778.48" width="25.61" height="25.57" fill="#fcf6b8"/>
<rect x="637.99" y="1778.48" width="25.61" height="25.57" fill="#fceeb0"/>
<rect x="663.3" y="1778.48" width="76.24" height="25.57" fill="#fcf9bb"/>
<rect x="739.24" y="1778.48" width="25.61" height="25.57" fill="#fcf0b2"/>
<rect x="764.55" y="1778.48" width="101.55" height="25.57" fill="#fcf7b9"/>
<rect x="258.3" y="1803.75" width="76.24" height="25.57" fill="#fcf4b6"/>
<rect x="334.24" y="1803.75" width="25.61" height="25.57" fill="#fcf2b4"/>
<rect x="359.55" y="1803.75" width="76.24" height="25.57" fill="#fcf7b9"/>
<rect x="435.49" y="1803.75" width="25.61" height="25.57" fill="#fcf6b8"/>
<rect x="460.8" y="1803.75" width="25.61" height="25.57" fill="#fcf0b2"/>
<rect x="486.11" y="1803.75" width="50.92" height="25.57" fill="#fcf4b6"/>
<rect x="536.74" y="1803.75" width="25.61" height="25.57" fill="#fde2a3"/>
<rect x="562.05" y="1803.75" width="25.61" height="25.57" fill="#fcf6b8"/>
<rect x="587.36" y="1803.75" width="25.61" height="25.57" fill="#fcf7b9"/>
<rect x="612.67" y="1803.75" width="76.24" height="25.57" fill="#fcf6b8"/>
<rect x="688.61" y="1803.75" width="25.61" height="25.57" fill="#fcf7b9"/>
<rect x="713.92" y="1803.75" width="50.92" height="25.57" fill="#fceeb0"/>
<rect x="764.55" y="1803.75" width="50.92" height="25.57" fill="#fcf7b9"/>
<rect x="815.17" y="1803.75" width="25.61" height="25.57" fill="#fcf6b8"/>
<rect x="840.49" y="1803.75" width="25.61" height="25.57" fill="#fcf7b9"/>
<rect x="258.3" y="1829.03" width="76.24" height="25.57" fill="#fcf4b6"/>
<rect x="334.24" y="1829.03" width="25.61" height="25.57" fill="#fde9aa"/>
<rect x="359.55" y="1829.03" width="25.61" height="25.57" fill="#fcf2b4"/>
<rect x="384.86" y="1829.03" width="50.92" height="25.57" fill="#fcf7b9"/>
<rect x="435.49" y="1829.03" width="25.61" height="25.57" fill="#fcf6b8"/>
<rect x="460.8" y="1829.03" width="25.61" height="25.57" fill="#fc8e64"/>
<rect x="486.11" y="1829.03" width="25.61" height="25.57" fill="#fc8961"/>
<rect x="511.43" y="1829.03" width="25.61" height="25.57" fill="#fec488"/>
<rect x="536.74" y="1829.03" width="25.61" height="25.57" fill="#fea772"/>
<rect x="562.05" y="1829.03" width="25.61" height="25.57" fill="#fcf4b6"/>
<rect x="587.36" y="1829.03" width="76.24" height="25.57" fill="#fcf6b8"/>
<rect x="663.3" y="1829.03" width="50.92" height="25.57" fill="#fcf2b4"/>
<rect x="713.92" y="1829.03" width="50.92" height="25.57" fill="#fcf6b8"/>
<rect x="764.55" y="1829.03" width="101.55" height="25.57" fill="#fcf7b9"/>
<line x1="359.55" y1="1753.2" x2="359.55" y2="1854.3" stroke="#000" stroke-width="1.5"/>
<line x1="460.8" y1="1753.2" x2="460.8" y2="1854.3" stroke="#000" stroke-width="1.5"/>
<line x1="562.05" y1="1753.2" x2="562.05" y2="1854.3" stroke="#000" stroke-width="1.5"/>
<line x1="663.3" y1="1753.2" x2="663.3" y2="1854.3" stroke="#000" stroke-width="1.5"/>
<line x1="764.55" y1="1753.2" x2="764.55" y2="1854.3" stroke="#000" stroke-width="1.5"/>
<rect x="258.3" y="1753.2" width="607.5" height="101.1" fill="none" stroke="#000" stroke-width="1.5"/>
<rect x="460.8" y="1778.48" width="101.25" height="25.27" fill="none" stroke="#000" stroke-width="3"/>
<text transform="translate(511.03 1797.71) scale(0.98 1)" font-size="15.4" text-anchor="middle" fill="#111" stroke="#111">11.9%</text>
<rect x="460.8" y="1829.03" width="101.25" height="25.27" fill="none" stroke="#000" stroke-width="3"/>
<text transform="translate(511.03 1848.26) scale(0.98 1)" font-size="15.4" text-anchor="middle" fill="#111" stroke="#111">32.0%</text>
<text transform="translate(245.5 1772.14) scale(0.98 1)" font-size="18.2" text-anchor="middle">A</text>
<text transform="translate(245.5 1797.41) scale(0.98 1)" font-size="18.2" text-anchor="middle">C</text>
<text transform="translate(245.5 1822.69) scale(0.98 1)" font-size="18.2" text-anchor="middle">G</text>
<text transform="translate(245.5 1847.96) scale(0.98 1)" font-size="18.2" text-anchor="middle">T</text>
<text transform="translate(861.4 1773.4) scale(0.98 1)" font-size="18.3" text-anchor="end">n=988</text>
<text transform="translate(222.2 1786.25) scale(0.98 1)" font-size="18.2" text-anchor="end">Bone marrow</text>
<text transform="translate(222.2 1807.95) scale(0.98 1)" font-size="18.2" text-anchor="end">relapse-</text>
<text transform="translate(222.2 1829.65) scale(0.98 1)" font-size="18.2" text-anchor="end">specific</text>
<text transform="translate(270.96 1874.2) scale(0.98 1)" font-size="18.2" text-anchor="middle">A</text>
<text transform="translate(296.27 1874.2) scale(0.98 1)" font-size="18.2" text-anchor="middle">C</text>
<text transform="translate(321.58 1874.2) scale(0.98 1)" font-size="18.2" text-anchor="middle">G</text>
<text transform="translate(346.89 1874.2) scale(0.98 1)" font-size="18.2" text-anchor="middle">T</text>
<text transform="translate(372.21 1874.2) scale(0.98 1)" font-size="18.2" text-anchor="middle">A</text>
<text transform="translate(397.52 1874.2) scale(0.98 1)" font-size="18.2" text-anchor="middle">C</text>
<text transform="translate(422.83 1874.2) scale(0.98 1)" font-size="18.2" text-anchor="middle">G</text>
<text transform="translate(448.14 1874.2) scale(0.98 1)" font-size="18.2" text-anchor="middle">T</text>
<text transform="translate(473.46 1874.2) scale(0.98 1)" font-size="18.2" text-anchor="middle">A</text>
<text transform="translate(498.77 1874.2) scale(0.98 1)" font-size="18.2" text-anchor="middle">C</text>
<text transform="translate(524.08 1874.2) scale(0.98 1)" font-size="18.2" text-anchor="middle">G</text>
<text transform="translate(549.39 1874.2) scale(0.98 1)" font-size="18.2" text-anchor="middle">T</text>
<text transform="translate(574.71 1874.2) scale(0.98 1)" font-size="18.2" text-anchor="middle">A</text>
<text transform="translate(600.02 1874.2) scale(0.98 1)" font-size="18.2" text-anchor="middle">C</text>
<text transform="translate(625.33 1874.2) scale(0.98 1)" font-size="18.2" text-anchor="middle">G</text>
<text transform="translate(650.64 1874.2) scale(0.98 1)" font-size="18.2" text-anchor="middle">T</text>
<text transform="translate(675.96 1874.2) scale(0.98 1)" font-size="18.2" text-anchor="middle">A</text>
<text transform="translate(701.27 1874.2) scale(0.98 1)" font-size="18.2" text-anchor="middle">C</text>
<text transform="translate(726.58 1874.2) scale(0.98 1)" font-size="18.2" text-anchor="middle">G</text>
<text transform="translate(751.89 1874.2) scale(0.98 1)" font-size="18.2" text-anchor="middle">T</text>
<text transform="translate(777.21 1874.2) scale(0.98 1)" font-size="18.2" text-anchor="middle">A</text>
<text transform="translate(802.52 1874.2) scale(0.98 1)" font-size="18.2" text-anchor="middle">C</text>
<text transform="translate(827.83 1874.2) scale(0.98 1)" font-size="18.2" text-anchor="middle">G</text>
<text transform="translate(853.14 1874.2) scale(0.98 1)" font-size="18.2" text-anchor="middle">T</text>
<line x1="86.3" y1="952" x2="86.3" y2="1387.9" stroke="#000" stroke-width="1.5"/>
<text transform="translate(63.8 1206.95) rotate(-90) scale(0.98 1)" font-size="21.7">Patient <tspan dx="-2.6">1</tspan></text>
<line x1="86.3" y1="1408.6" x2="86.3" y2="1509.7" stroke="#000" stroke-width="1.5"/>
<text transform="translate(63.8 1459.25) rotate(-90) scale(0.98 1)" font-size="21.7" text-anchor="middle">Patient 3</text>
<line x1="86.3" y1="1530.4" x2="86.3" y2="1854.3" stroke="#000" stroke-width="1.5"/>
<text transform="translate(63.8 1692.45) rotate(-90) scale(0.98 1)" font-size="21.7" text-anchor="middle">Patient 12</text>
</g>
<path d="M931.5 1609.8 V1671 H992.3" fill="none" stroke="#000" stroke-width="1.5"/>
<text transform="translate(926.5 1671.2) rotate(-90) scale(0.98 1)" font-size="21.8">5’ base</text>
<text transform="translate(931 1694.7) scale(0.98 1)" font-size="21.9">3’ base</text>
<defs><linearGradient id="gmc" x1="0" x2="1" y1="0" y2="0"><stop offset="0" stop-color="#fcfdbf"/><stop offset="0.05" stop-color="#fde7a9"/><stop offset="0.1" stop-color="#fecf92"/><stop offset="0.15" stop-color="#feb77e"/><stop offset="0.2" stop-color="#fe9f6d"/><stop offset="0.25" stop-color="#fc8961"/><stop offset="0.3" stop-color="#f7705c"/><stop offset="0.35" stop-color="#ed5a5f"/><stop offset="0.4" stop-color="#de4968"/><stop offset="0.45" stop-color="#ca3e72"/><stop offset="0.5" stop-color="#b73779"/><stop offset="0.55" stop-color="#a1307e"/><stop offset="0.6" stop-color="#8c2981"/><stop offset="0.65" stop-color="#782281"/><stop offset="0.7" stop-color="#641a80"/><stop offset="0.75" stop-color="#51127c"/><stop offset="0.8" stop-color="#3b0f70"/><stop offset="0.85" stop-color="#251255"/><stop offset="0.9" stop-color="#140e36"/><stop offset="0.95" stop-color="#06051a"/><stop offset="1" stop-color="#000004"/></linearGradient></defs>
<rect x="931.6" y="1751.5" width="121.8" height="24.8" fill="url(#gmc)" stroke="#000" stroke-width="1.5"/>
<line x1="931.6" y1="1776.3" x2="931.6" y2="1786.3" stroke="#000" stroke-width="1.5"/>
<text transform="translate(931.6 1809.8) scale(0.98 1)" font-size="18" text-anchor="middle">0%</text>
<line x1="992.5" y1="1776.3" x2="992.5" y2="1786.3" stroke="#000" stroke-width="1.5"/>
<text transform="translate(992.5 1809.8) scale(0.98 1)" font-size="18" text-anchor="middle">20%</text>
<line x1="1053.4" y1="1776.3" x2="1053.4" y2="1786.3" stroke="#000" stroke-width="1.5"/>
<text transform="translate(1053.4 1809.8) scale(0.98 1)" font-size="18" text-anchor="middle">40%</text>
<text transform="translate(992.5 1840.1) scale(0.98 1)" font-size="21.8" text-anchor="middle">Percent of mutations</text>
<g id="panel-d">
<text transform="translate(1200.1 1313.2) scale(1.03 1)" font-size="41.5" font-weight="bold">d</text>
<text transform="translate(1464.3 1328.1) scale(0.98 1)" font-size="25.55" text-anchor="middle">Dinucleotide mutations</text>
<rect x="1332.4" y="1618.06" width="25.6" height="1.94" fill="#CC3366" stroke="#000" stroke-width="1.5"/>
<rect x="1358" y="1618.06" width="25.6" height="1.94" fill="#DDDDDD" stroke="#000" stroke-width="1.5"/>
<rect x="1403.3" y="1348.92" width="25.6" height="271.07" fill="#CC3366" stroke="#000" stroke-width="1.5"/>
<rect x="1428.9" y="1519.32" width="25.6" height="100.69" fill="#DDDDDD" stroke="#000" stroke-width="1.5"/>
<rect x="1473.9" y="1403.14" width="25.6" height="216.86" fill="#CC3366" stroke="#000" stroke-width="1.5"/>
<rect x="1499.5" y="1534.81" width="25.6" height="85.2" fill="#DDDDDD" stroke="#000" stroke-width="1.5"/>
<rect x="1544.7" y="1472.85" width="25.6" height="147.16" fill="#CC3366" stroke="#000" stroke-width="1.5"/>
<rect x="1570.3" y="1550.3" width="25.6" height="69.7" fill="#DDDDDD" stroke="#000" stroke-width="1.5"/>
<line x1="1320" y1="1387.65" x2="1320" y2="1620" stroke="#000" stroke-width="1.5"/>
<line x1="1309" y1="1620" x2="1608.6" y2="1620" stroke="#000" stroke-width="1.5"/>
<line x1="1309" y1="1620" x2="1320" y2="1620" stroke="#000" stroke-width="1.5"/>
<text transform="translate(1304.7 1626.3) scale(0.98 1)" font-size="18.2" text-anchor="end">0</text>
<line x1="1309" y1="1542.55" x2="1320" y2="1542.55" stroke="#000" stroke-width="1.5"/>
<text transform="translate(1304.7 1548.85) scale(0.98 1)" font-size="18.2" text-anchor="end">10</text>
<line x1="1309" y1="1465.1" x2="1320" y2="1465.1" stroke="#000" stroke-width="1.5"/>
<text transform="translate(1304.7 1471.4) scale(0.98 1)" font-size="18.2" text-anchor="end">20</text>
<line x1="1309" y1="1387.65" x2="1320" y2="1387.65" stroke="#000" stroke-width="1.5"/>
<text transform="translate(1304.7 1393.95) scale(0.98 1)" font-size="18.2" text-anchor="end">30</text>
<text transform="translate(1262 1504) rotate(-90) scale(0.98 1)" font-size="21.85" text-anchor="middle">Number of mutations</text>
<text transform="translate(1421.7 1616.3) rotate(-90) scale(0.98 1)" font-size="18.3" fill="#5a0a28" stroke="#5a0a28">CC&gt;TT</text>
<text transform="translate(1446.6 1616.3) rotate(-90) scale(0.98 1)" font-size="18.3" fill="#111" stroke="#111">other</text>
<text transform="translate(1352.8 1631.3) rotate(-90) scale(0.98 1)" font-size="18.2" text-anchor="end">Bone marrow</text>
<text transform="translate(1374.8 1631.3) rotate(-90) scale(0.98 1)" font-size="18.2" text-anchor="end">diagnosis</text>
<text transform="translate(1423.7 1631.3) rotate(-90) scale(0.98 1)" font-size="18.2" text-anchor="end">Skin diagnosis-</text>
<text transform="translate(1445.7 1631.3) rotate(-90) scale(0.98 1)" font-size="18.2" text-anchor="end">specific</text>
<text transform="translate(1494.3 1631.3) rotate(-90) scale(0.98 1)" font-size="18.2" text-anchor="end">Skin relapse</text>
<text transform="translate(1516.3 1631.3) rotate(-90) scale(0.98 1)" font-size="18.2" text-anchor="end">#1-specific</text>
<text transform="translate(1565.1 1631.3) rotate(-90) scale(0.98 1)" font-size="18.2" text-anchor="end">Skin relapse</text>
<text transform="translate(1587.1 1631.3) rotate(-90) scale(0.98 1)" font-size="18.2" text-anchor="end">#2-specific</text>
</g>
<g id="panel-e">
<text transform="translate(4.95 1960.9) scale(1.03 1)" font-size="42" font-weight="bold">e</text>
<line x1="127" y1="2034.55" x2="127" y2="2339.95" stroke="#000" stroke-width="1.5"/>
<line x1="117.7" y1="2339.2" x2="127" y2="2339.2" stroke="#000" stroke-width="1.5"/>
<text transform="translate(111.7 2344.5) scale(0.98 1)" font-size="18" text-anchor="end">0</text>
<line x1="117.7" y1="2263.22" x2="127" y2="2263.22" stroke="#000" stroke-width="1.5"/>
<text transform="translate(111.7 2268.53) scale(0.98 1)" font-size="18" text-anchor="end">25</text>
<line x1="117.7" y1="2187.25" x2="127" y2="2187.25" stroke="#000" stroke-width="1.5"/>
<text transform="translate(111.7 2192.55) scale(0.98 1)" font-size="18" text-anchor="end">50</text>
<line x1="117.7" y1="2111.28" x2="127" y2="2111.28" stroke="#000" stroke-width="1.5"/>
<text transform="translate(111.7 2116.58) scale(0.98 1)" font-size="18" text-anchor="end">75</text>
<line x1="117.7" y1="2035.3" x2="127" y2="2035.3" stroke="#000" stroke-width="1.5"/>
<text transform="translate(111.7 2040.6) scale(0.98 1)" font-size="18" text-anchor="end">100</text>
<line x1="711.7" y1="2035.25" x2="711.7" y2="2340.65" stroke="#000" stroke-width="1.5"/>
<line x1="702.4" y1="2339.9" x2="711.7" y2="2339.9" stroke="#000" stroke-width="1.5"/>
<text transform="translate(696.4 2345.2) scale(0.98 1)" font-size="18" text-anchor="end">0</text>
<line x1="702.4" y1="2263.92" x2="711.7" y2="2263.92" stroke="#000" stroke-width="1.5"/>
<text transform="translate(696.4 2269.22) scale(0.98 1)" font-size="18" text-anchor="end">25</text>
<line x1="702.4" y1="2187.95" x2="711.7" y2="2187.95" stroke="#000" stroke-width="1.5"/>
<text transform="translate(696.4 2193.25) scale(0.98 1)" font-size="18" text-anchor="end">50</text>
<line x1="702.4" y1="2111.97" x2="711.7" y2="2111.97" stroke="#000" stroke-width="1.5"/>
<text transform="translate(696.4 2117.28) scale(0.98 1)" font-size="18" text-anchor="end">75</text>
<line x1="702.4" y1="2036" x2="711.7" y2="2036" stroke="#000" stroke-width="1.5"/>
<text transform="translate(696.4 2041.3) scale(0.98 1)" font-size="18" text-anchor="end">100</text>
<line x1="1303.3" y1="2035.25" x2="1303.3" y2="2340.65" stroke="#000" stroke-width="1.5"/>
<line x1="1294" y1="2339.9" x2="1303.3" y2="2339.9" stroke="#000" stroke-width="1.5"/>
<text transform="translate(1288 2345.2) scale(0.98 1)" font-size="18" text-anchor="end">0</text>
<line x1="1294" y1="2263.92" x2="1303.3" y2="2263.92" stroke="#000" stroke-width="1.5"/>
<text transform="translate(1288 2269.22) scale(0.98 1)" font-size="18" text-anchor="end">25</text>
<line x1="1294" y1="2187.95" x2="1303.3" y2="2187.95" stroke="#000" stroke-width="1.5"/>
<text transform="translate(1288 2193.25) scale(0.98 1)" font-size="18" text-anchor="end">50</text>
<line x1="1294" y1="2111.97" x2="1303.3" y2="2111.97" stroke="#000" stroke-width="1.5"/>
<text transform="translate(1288 2117.28) scale(0.98 1)" font-size="18" text-anchor="end">75</text>
<line x1="1294" y1="2036" x2="1303.3" y2="2036" stroke="#000" stroke-width="1.5"/>
<text transform="translate(1288 2041.3) scale(0.98 1)" font-size="18" text-anchor="end">100</text>
<text transform="translate(63.5 2187) rotate(-90) scale(0.98 1)" font-size="21.75" text-anchor="middle">Percentage of cells</text>
<text transform="translate(211.5 1993.2) scale(0.98 1)" font-size="18.3" text-anchor="middle">SMARCC1.3pUTR</text>
<text transform="translate(175 2020.6) scale(0.98 1)" font-size="18.3" text-anchor="middle">Pt1Dx</text>
<text transform="translate(248.2 2020.6) scale(0.98 1)" font-size="18.3" text-anchor="middle">Pt1Rem</text>
<rect x="144.2" y="2035.3" width="29" height="303.9" fill="#D9D9D9"/>
<rect x="144.2" y="2330.69" width="29" height="8.51" fill="#969696"/>
<text transform="translate(164 2354.6) rotate(-90) scale(0.98 1)" font-size="18.1" text-anchor="end">Healthy (n=2,341)</text>
<rect x="176.5" y="2035.3" width="29" height="303.9" fill="#D9D9D9"/>
<rect x="176.5" y="2315.8" width="29" height="23.4" fill="#FFC90E"/>
<text transform="translate(196.3 2354.6) rotate(-90) scale(0.98 1)" font-size="18.1" text-anchor="end">Malignant (n=132)</text>
<rect x="217.5" y="2035.3" width="29" height="303.9" fill="#D9D9D9"/>
<rect x="217.5" y="2331.6" width="29" height="7.6" fill="#969696"/>
<text transform="translate(237.3 2354.6) rotate(-90) scale(0.98 1)" font-size="18.1" text-anchor="end">Healthy (n=10,297)</text>
<rect x="249.8" y="2035.3" width="29" height="303.9" fill="#D9D9D9"/>
<rect x="249.8" y="2318.84" width="29" height="20.36" fill="#969696"/>
<text transform="translate(269.6 2354.6) rotate(-90) scale(0.98 1)" font-size="18.1" text-anchor="end">Premalignant (n=15)</text>
<text transform="translate(378.5 1993.2) scale(0.98 1)" font-size="18.3" text-anchor="middle">FAM98C.G228S</text>
<text transform="translate(342 2020.6) scale(0.98 1)" font-size="18.3" text-anchor="middle">Pt1Dx</text>
<text transform="translate(415.2 2020.6) scale(0.98 1)" font-size="18.3" text-anchor="middle">Pt1Rem</text>
<rect x="311.3" y="2035.3" width="29" height="303.9" fill="#D9D9D9"/>
<rect x="311.3" y="2320.97" width="29" height="18.23" fill="#969696"/>
<text transform="translate(331.1 2354.6) rotate(-90) scale(0.98 1)" font-size="18.1" text-anchor="end">Healthy (n=2,341)</text>
<rect x="343.6" y="2035.3" width="29" height="303.9" fill="#D9D9D9"/>
<rect x="343.6" y="2331.6" width="29" height="7.6" fill="#FFC90E"/>
<rect x="343.6" y="2318.23" width="29" height="13.37" fill="#969696"/>
<text transform="translate(363.4 2354.6) rotate(-90) scale(0.98 1)" font-size="18.1" text-anchor="end">Malignant (n=132)</text>
<rect x="384.5" y="2035.3" width="29" height="303.9" fill="#D9D9D9"/>
<rect x="384.5" y="2319.14" width="29" height="20.06" fill="#969696"/>
<text transform="translate(404.3 2354.6) rotate(-90) scale(0.98 1)" font-size="18.1" text-anchor="end">Healthy (n=10,297)</text>
<rect x="416.8" y="2035.3" width="29" height="303.9" fill="#D9D9D9"/>
<rect x="416.8" y="2298.78" width="29" height="40.42" fill="#969696"/>
<text transform="translate(436.6 2354.6) rotate(-90) scale(0.98 1)" font-size="18.1" text-anchor="end">Premalignant (n=15)</text>
<text transform="translate(545.5 1993.2) scale(0.98 1)" font-size="18.3" text-anchor="middle">SETX.3pUTR</text>
<text transform="translate(509 2020.6) scale(0.98 1)" font-size="18.3" text-anchor="middle">Pt1Dx</text>
<text transform="translate(582.2 2020.6) scale(0.98 1)" font-size="18.3" text-anchor="middle">Pt1Rem</text>
<rect x="478.3" y="2035.3" width="29" height="303.9" fill="#D9D9D9"/>
<rect x="478.3" y="2326.13" width="29" height="13.07" fill="#969696"/>
<text transform="translate(498.1 2354.6) rotate(-90) scale(0.98 1)" font-size="18.1" text-anchor="end">Healthy (n=2,341)</text>
<rect x="510.6" y="2035.3" width="29" height="303.9" fill="#D9D9D9"/>
<rect x="510.6" y="2308.51" width="29" height="30.69" fill="#FFC90E"/>
<rect x="510.6" y="2306.99" width="29" height="1.52" fill="#969696"/>
<text transform="translate(530.4 2354.6) rotate(-90) scale(0.98 1)" font-size="18.1" text-anchor="end">Malignant (n=132)</text>
<rect x="551.5" y="2035.3" width="29" height="303.9" fill="#D9D9D9"/>
<rect x="551.5" y="2325.52" width="29" height="13.68" fill="#969696"/>
<text transform="translate(571.3 2354.6) rotate(-90) scale(0.98 1)" font-size="18.1" text-anchor="end">Healthy (n=10,297)</text>
<rect x="583.8" y="2035.3" width="29" height="303.9" fill="#D9D9D9"/>
<rect x="583.8" y="2318.84" width="29" height="20.36" fill="#969696"/>
<text transform="translate(603.6 2354.6) rotate(-90) scale(0.98 1)" font-size="18.1" text-anchor="end">Premalignant (n=15)</text>
<text transform="translate(798.3 1994.2) scale(0.98 1)" font-size="18.3" text-anchor="middle">HNRNPUL1.F559F</text>
<text transform="translate(762.7 2020.6) scale(0.98 1)" font-size="18.3" text-anchor="middle">Pt10Dx</text>
<text transform="translate(837.7 2020.6) scale(0.98 1)" font-size="18.3" text-anchor="middle">Pt10Rel</text>
<rect x="728.7" y="2036" width="21" height="303.9" fill="#D9D9D9"/>
<rect x="728.7" y="2321.67" width="21" height="18.23" fill="#969696"/>
<text transform="translate(743.8 2355.3) rotate(-90) scale(0.98 1)" font-size="18.1" text-anchor="end">Healthy (n=10,047)</text>
<rect x="752" y="2036" width="21" height="303.9" fill="#D9D9D9"/>
<rect x="752" y="2324.7" width="21" height="15.19" fill="#969696"/>
<text transform="translate(767.1 2355.3) rotate(-90) scale(0.98 1)" font-size="18.1" text-anchor="end">Premalignant (n=40)</text>
<rect x="775.3" y="2036" width="21" height="303.9" fill="#D9D9D9"/>
<rect x="775.3" y="2259.97" width="21" height="79.93" fill="#FF6A0D"/>
<text transform="translate(790.4 2355.3) rotate(-90) scale(0.98 1)" font-size="18.1" text-anchor="end">Malignant (n=19)</text>
<rect x="807" y="2036" width="29" height="303.9" fill="#D9D9D9"/>
<rect x="807" y="2338.99" width="29" height="0.91" fill="#FF6A0D"/>
<rect x="807" y="2295.83" width="29" height="43.15" fill="#969696"/>
<text transform="translate(826.8 2355.3) rotate(-90) scale(0.98 1)" font-size="18.1" text-anchor="end">Healthy (n=2,946)</text>
<rect x="839.3" y="2036" width="29" height="303.9" fill="#D9D9D9"/>
<rect x="839.3" y="2299.79" width="29" height="40.11" fill="#FF6A0D"/>
<rect x="839.3" y="2267.88" width="29" height="31.91" fill="#969696"/>
<text transform="translate(859.1 2355.3) rotate(-90) scale(0.98 1)" font-size="18.1" text-anchor="end">Malignant (n=4,552)</text>
<text transform="translate(965.3 1994.2) scale(0.98 1)" font-size="18.3" text-anchor="middle">MAP4K5.P667S</text>
<text transform="translate(929 2020.6) scale(0.98 1)" font-size="18.3" text-anchor="middle">Pt10Dx</text>
<text transform="translate(1004.3 2020.6) scale(0.98 1)" font-size="18.3" text-anchor="middle">Pt10Rel</text>
<rect x="896" y="2036" width="21" height="303.9" fill="#D9D9D9"/>
<rect x="896" y="2336.25" width="21" height="3.65" fill="#969696"/>
<text transform="translate(911.1 2355.3) rotate(-90) scale(0.98 1)" font-size="18.1" text-anchor="end">Healthy (n=10,047)</text>
<rect x="919.3" y="2036" width="21" height="303.9" fill="#D9D9D9"/>
<rect x="919.3" y="2332.3" width="21" height="7.6" fill="#969696"/>
<text transform="translate(934.4 2355.3) rotate(-90) scale(0.98 1)" font-size="18.1" text-anchor="end">Premalignant (n=40)</text>
<rect x="942.6" y="2036" width="21" height="303.9" fill="#D9D9D9"/>
<rect x="942.6" y="2323.79" width="21" height="16.11" fill="#FF6A0D"/>
<text transform="translate(957.7 2355.3) rotate(-90) scale(0.98 1)" font-size="18.1" text-anchor="end">Malignant (n=19)</text>
<rect x="974" y="2036" width="29" height="303.9" fill="#D9D9D9"/>
<rect x="974" y="2333.21" width="29" height="6.69" fill="#969696"/>
<text transform="translate(993.8 2355.3) rotate(-90) scale(0.98 1)" font-size="18.1" text-anchor="end">Healthy (n=2,946)</text>
<rect x="1006.3" y="2036" width="29" height="303.9" fill="#D9D9D9"/>
<rect x="1006.3" y="2334.43" width="29" height="5.47" fill="#FF6A0D"/>
<rect x="1006.3" y="2330.78" width="29" height="3.65" fill="#969696"/>
<text transform="translate(1026.1 2355.3) rotate(-90) scale(0.98 1)" font-size="18.1" text-anchor="end">Malignant (n=4,552)</text>
<text transform="translate(1132.7 1994.2) scale(0.98 1)" font-size="18.3" text-anchor="middle">ACAP2.L97M</text>
<text transform="translate(1095.3 2020.6) scale(0.98 1)" font-size="18.3" text-anchor="middle">Pt10Dx</text>
<text transform="translate(1171 2020.6) scale(0.98 1)" font-size="18.3" text-anchor="middle">Pt10Rel</text>
<rect x="1062.3" y="2036" width="21" height="303.9" fill="#D9D9D9"/>
<rect x="1062.3" y="2339.29" width="21" height="0.61" fill="#FFC90E"/>
<rect x="1062.3" y="2256.33" width="21" height="82.96" fill="#969696"/>
<text transform="translate(1077.4 2355.3) rotate(-90) scale(0.98 1)" font-size="18.1" text-anchor="end">Healthy (n=10,047)</text>
<rect x="1085.6" y="2036" width="21" height="303.9" fill="#D9D9D9"/>
<rect x="1085.6" y="2195.55" width="21" height="144.35" fill="#969696"/>
<text transform="translate(1100.7 2355.3) rotate(-90) scale(0.98 1)" font-size="18.1" text-anchor="end">Premalignant (n=40)</text>
<rect x="1108.9" y="2036" width="21" height="303.9" fill="#D9D9D9"/>
<rect x="1108.9" y="2291.88" width="21" height="48.02" fill="#FFC90E"/>
<rect x="1108.9" y="2211.96" width="21" height="79.93" fill="#969696"/>
<text transform="translate(1124 2355.3) rotate(-90) scale(0.98 1)" font-size="18.1" text-anchor="end">Malignant (n=19)</text>
<rect x="1140.7" y="2036" width="29" height="303.9" fill="#D9D9D9"/>
<rect x="1140.7" y="2338.38" width="29" height="1.52" fill="#FFC90E"/>
<rect x="1140.7" y="2256.33" width="29" height="82.05" fill="#969696"/>
<text transform="translate(1160.5 2355.3) rotate(-90) scale(0.98 1)" font-size="18.1" text-anchor="end">Healthy (n=2,946)</text>
<rect x="1173" y="2036" width="29" height="303.9" fill="#D9D9D9"/>
<rect x="1173" y="2289.76" width="29" height="50.14" fill="#FFC90E"/>
<rect x="1173" y="2245.69" width="29" height="44.07" fill="#969696"/>
<text transform="translate(1192.8 2355.3) rotate(-90) scale(0.98 1)" font-size="18.1" text-anchor="end">Malignant (n=4,552)</text>
<text transform="translate(1351.3 1972.4) scale(0.98 1)" font-size="18.3" text-anchor="middle">IDH2</text>
<text transform="translate(1351.3 1994.2) scale(0.98 1)" font-size="18.3" text-anchor="middle">R140Q</text>
<text transform="translate(1351.3 2020.6) scale(0.98 1)" font-size="18.3" text-anchor="middle">Pt14Dx</text>
<rect x="1320.7" y="2036" width="29" height="303.9" fill="#D9D9D9"/>
<rect x="1320.7" y="2337.77" width="29" height="2.13" fill="#FFC90E"/>
<rect x="1320.7" y="2232.93" width="29" height="104.85" fill="#969696"/>
<text transform="translate(1340.5 2355.3) rotate(-90) scale(0.98 1)" font-size="18.1" text-anchor="end">Healthy (n=6,213)</text>
<rect x="1353" y="2036" width="29" height="303.9" fill="#D9D9D9"/>
<rect x="1353" y="2194.64" width="29" height="145.26" fill="#FFC90E"/>
<rect x="1353" y="2125.04" width="29" height="69.59" fill="#969696"/>
<text transform="translate(1372.8 2355.3) rotate(-90) scale(0.98 1)" font-size="18.1" text-anchor="end">Malignant (n=1,161)</text>
<text transform="translate(1445 1972.4) scale(0.98 1)" font-size="18.3" text-anchor="middle">ETV6</text>
<text transform="translate(1445 1994.2) scale(0.98 1)" font-size="18.3" text-anchor="middle">R369W</text>
<text transform="translate(1445 2020.6) scale(0.98 1)" font-size="18.3" text-anchor="middle">Pt14Dx</text>
<rect x="1414.3" y="2036" width="29" height="303.9" fill="#D9D9D9"/>
<rect x="1414.3" y="2339.29" width="29" height="0.61" fill="#CC3366"/>
<rect x="1414.3" y="2328.96" width="29" height="10.33" fill="#969696"/>
<text transform="translate(1434.1 2355.3) rotate(-90) scale(0.98 1)" font-size="18.1" text-anchor="end">Healthy (n=6,213)</text>
<rect x="1446.6" y="2036" width="29" height="303.9" fill="#D9D9D9"/>
<rect x="1446.6" y="2325.92" width="29" height="13.98" fill="#CC3366"/>
<rect x="1446.6" y="2285.2" width="29" height="40.72" fill="#969696"/>
<text transform="translate(1466.4 2355.3) rotate(-90) scale(0.98 1)" font-size="18.1" text-anchor="end">Malignant (n=1,161)</text>
<text transform="translate(1524 2063.8) scale(0.98 1)" font-size="18.5">Variant calls</text>
<rect x="1526.9" y="2083" width="13.3" height="13.2" fill="#FFC90E"/>
<text transform="translate(1551.3 2095.7) scale(0.98 1)" font-size="18.3">Mutant (CC&gt;CT)</text>
<rect x="1526.9" y="2108.4" width="13.3" height="13.2" fill="#FF6A0D"/>
<text transform="translate(1551.3 2121.1) scale(0.98 1)" font-size="18.3">Mutant (TC&gt;TT)</text>
<rect x="1526.9" y="2136.9" width="13.3" height="13.2" fill="#CC3366"/>
<text transform="translate(1551.3 2149.6) scale(0.98 1)" font-size="18.3">Mutant (CC&gt;TT)</text>
<rect x="1526.9" y="2163.8" width="13.3" height="13.2" fill="#969696"/>
<text transform="translate(1551.3 2176.5) scale(0.98 1)" font-size="18.3">Wild-type</text>
<rect x="1526.9" y="2190.8" width="13.3" height="13.2" fill="#D9D9D9"/>
<text transform="translate(1551.3 2203.5) scale(0.98 1)" font-size="18.3">No call</text>
</g>
</svg></body></html>
